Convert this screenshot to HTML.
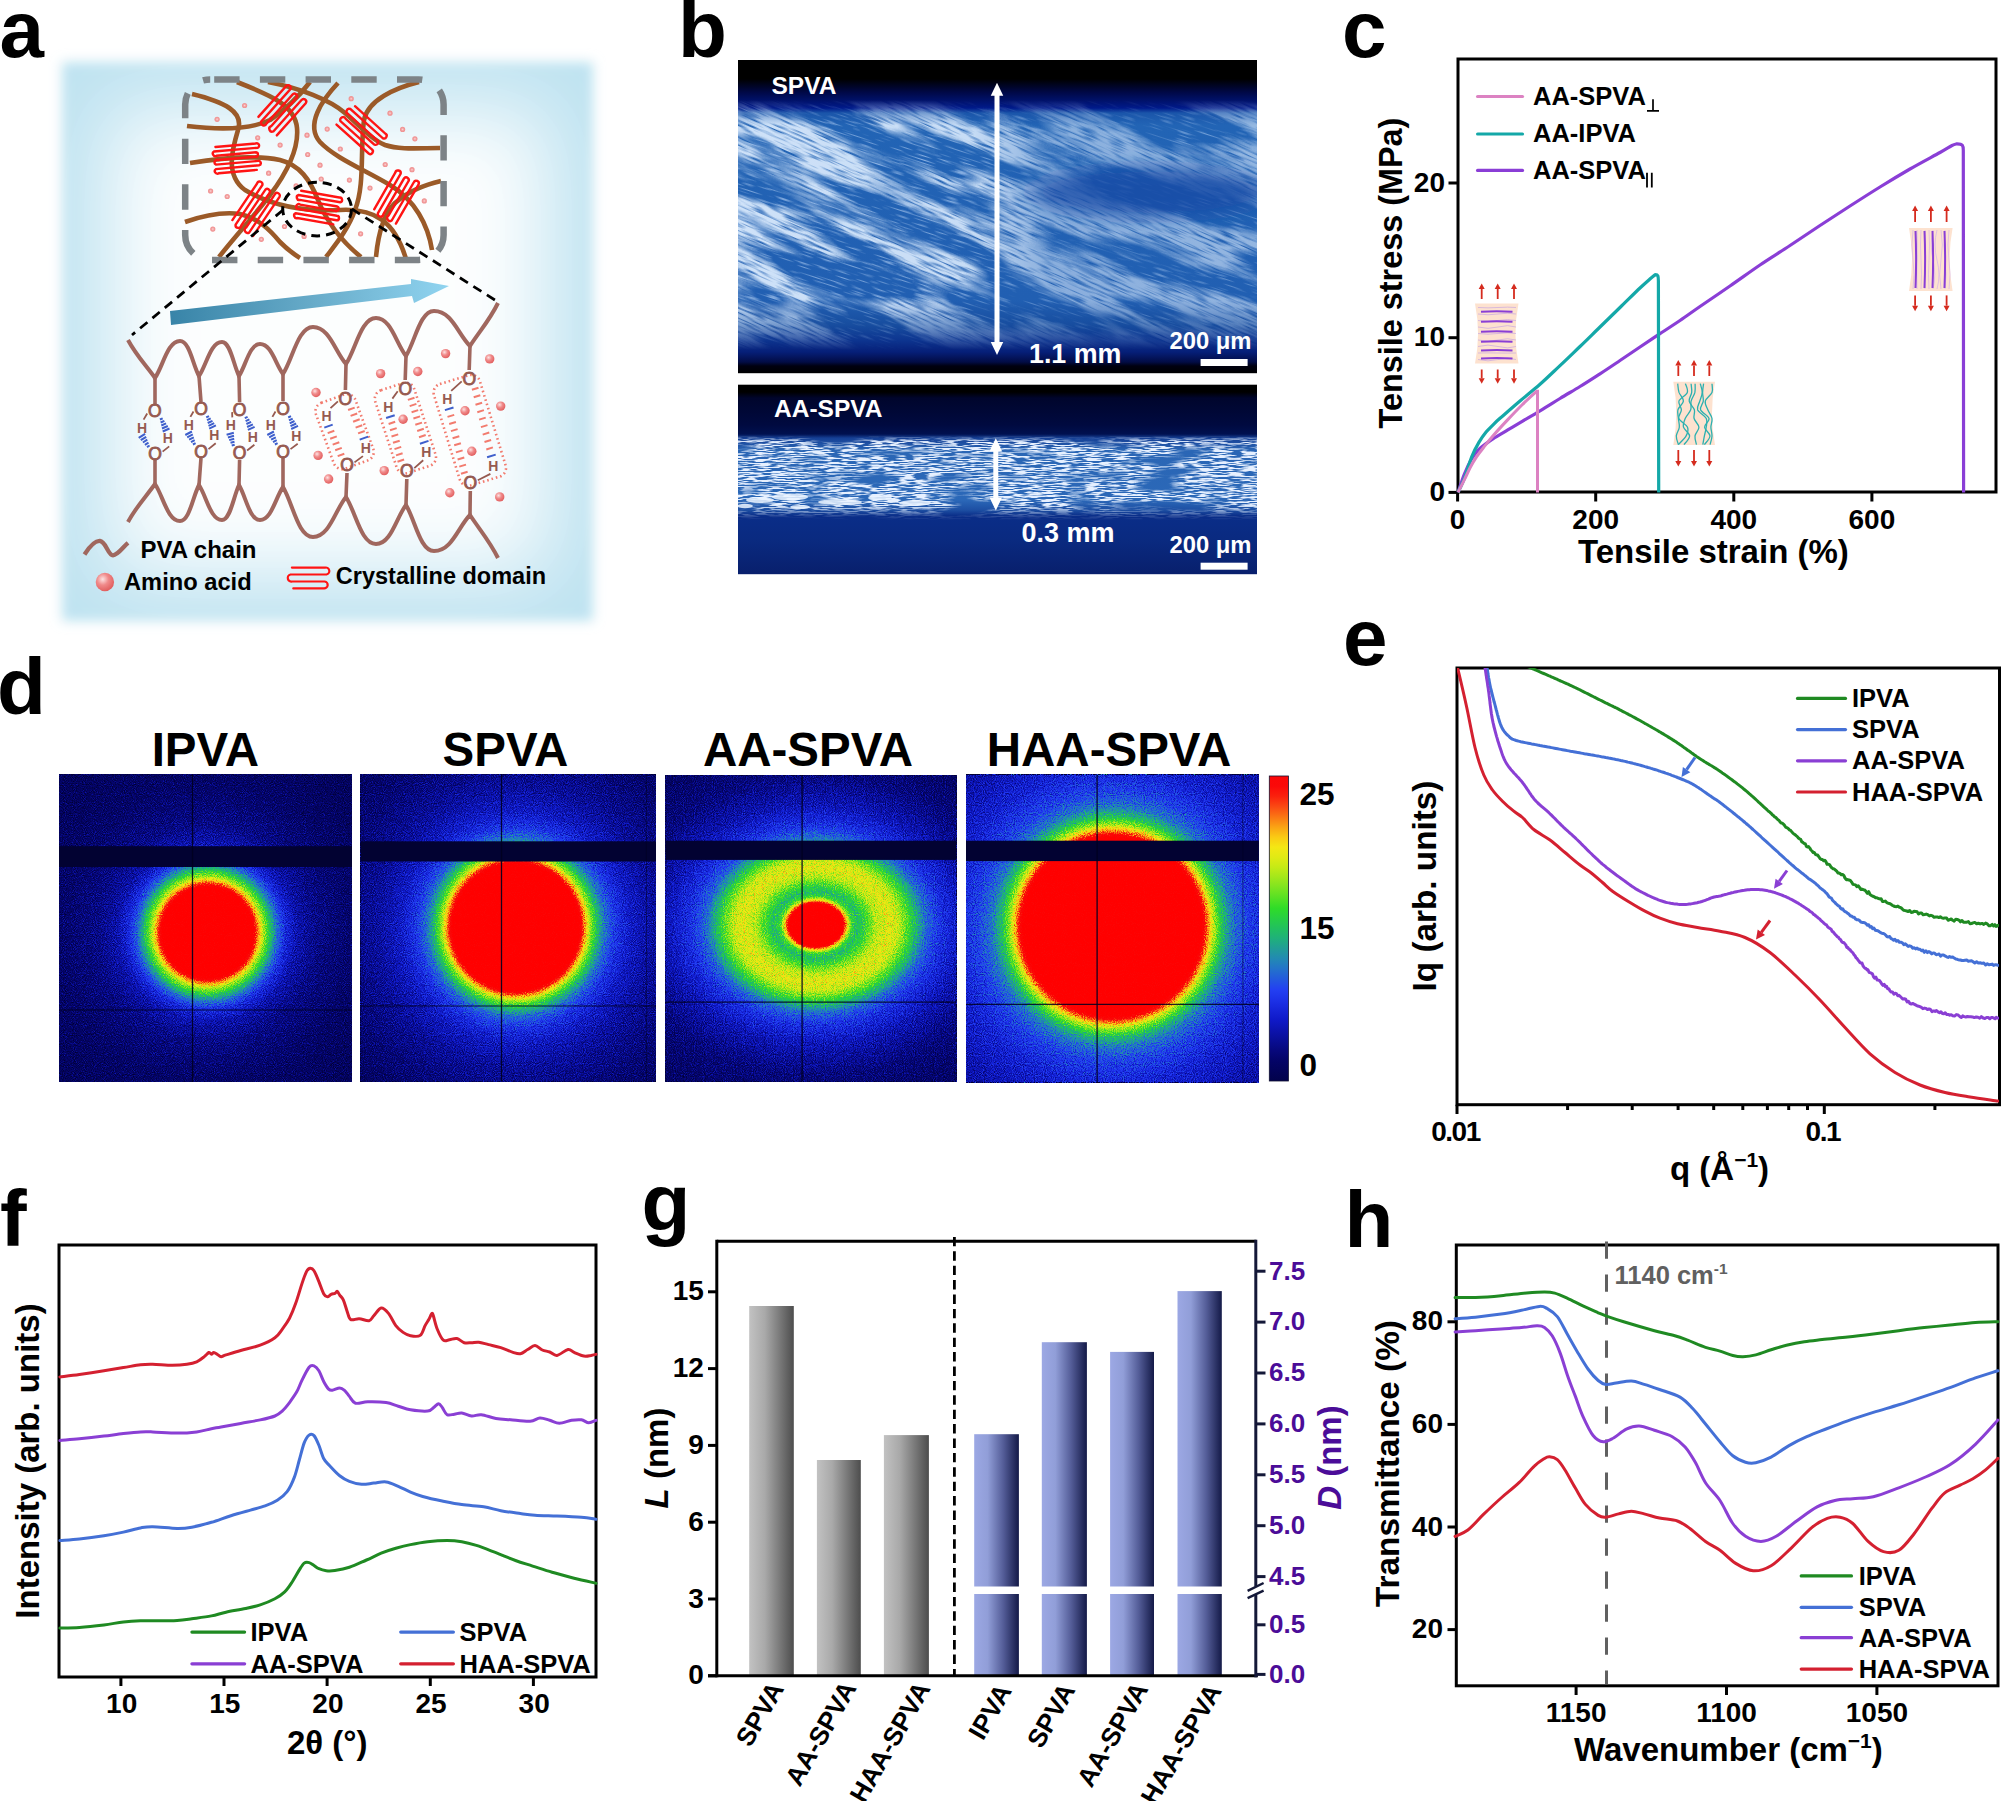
<!DOCTYPE html>
<html><head><meta charset="utf-8"><title>Figure</title>
<style>html,body{margin:0;padding:0;background:#fff;} svg{display:block;} text{font-family:'Liberation Sans', Arial, Helvetica, sans-serif;}</style>
</head><body>
<svg xmlns="http://www.w3.org/2000/svg" width="2001" height="1801" viewBox="0 0 2001 1801">
<rect width="2001" height="1801" fill="#fff"/>
<defs>
<filter id="fa1" x="-20%" y="-20%" width="140%" height="140%"><feGaussianBlur stdDeviation="6"/></filter>
<filter id="fa2" x="-60%" y="-60%" width="220%" height="220%"><feGaussianBlur stdDeviation="42"/></filter>
<linearGradient id="arrowG" x1="170" y1="0" x2="449" y2="0" gradientUnits="userSpaceOnUse"><stop offset="0" stop-color="#3884a8"/><stop offset="0.5" stop-color="#66aac8"/><stop offset="1" stop-color="#90d4f0"/></linearGradient>
<radialGradient id="aaDot" cx="0.38" cy="0.35" r="0.7"><stop offset="0" stop-color="#fde2e2"/><stop offset="0.45" stop-color="#f08a8a"/><stop offset="1" stop-color="#e05a5a"/></radialGradient>
<radialGradient id="aaDot2" cx="0.5" cy="0.5" r="0.5"><stop offset="0" stop-color="#fbd6d6"/><stop offset="0.5" stop-color="#f3a0a0"/><stop offset="1" stop-color="#ee8d8d"/></radialGradient>
</defs>
<rect x="62" y="62" width="531" height="559" fill="#bde2f0" filter="url(#fa1)"/>
<rect x="108" y="108" width="440" height="467" fill="#ffffff" filter="url(#fa2)" opacity="0.97"/>
<path d="M192,94 C225,102 244,112 238,130 C232,150 225,175 245,190 C270,205 300,212 340,210 C375,208 395,222 406,259" fill="none" stroke="#9b5a28" stroke-width="4.6" stroke-linecap="butt"/>
<path d="M187,126 C220,130 250,130 270,120 C288,108 300,95 310,82" fill="none" stroke="#9b5a28" stroke-width="4.6" stroke-linecap="butt"/>
<path d="M237,82 C270,95 295,105 297,128 C299,150 285,175 270,195 C255,215 232,240 219,257" fill="none" stroke="#9b5a28" stroke-width="4.6" stroke-linecap="butt"/>
<path d="M268,82 C300,88 330,100 345,113 C360,126 372,140 385,145 C400,150 420,148 440,148" fill="none" stroke="#9b5a28" stroke-width="4.6" stroke-linecap="butt"/>
<path d="M338,83 C322,100 305,125 320,142 C335,158 365,170 390,185 C415,200 428,225 432,250" fill="none" stroke="#9b5a28" stroke-width="4.6" stroke-linecap="butt"/>
<path d="M419,82 C395,88 368,100 364,120 C360,150 365,185 355,210 C348,230 335,245 326,257" fill="none" stroke="#9b5a28" stroke-width="4.6" stroke-linecap="butt"/>
<path d="M190,163 C220,158 255,155 280,160 C300,165 310,180 318,200 C326,220 340,240 361,257" fill="none" stroke="#9b5a28" stroke-width="4.6" stroke-linecap="butt"/>
<path d="M185,222 C205,215 225,212 240,214 C258,218 270,230 280,242 C288,250 295,255 300,258" fill="none" stroke="#9b5a28" stroke-width="4.6" stroke-linecap="butt"/>
<path d="M376,257 C378,235 383,215 395,203 C410,190 425,185 441,181" fill="none" stroke="#9b5a28" stroke-width="4.6" stroke-linecap="butt"/>
<circle cx="244.6" cy="105.5" r="2.6" fill="url(#aaDot2)"/>
<circle cx="217.1" cy="119.3" r="2.6" fill="url(#aaDot2)"/>
<circle cx="257.7" cy="137.8" r="2.6" fill="url(#aaDot2)"/>
<circle cx="280.1" cy="145.1" r="2.6" fill="url(#aaDot2)"/>
<circle cx="307" cy="135.2" r="2.6" fill="url(#aaDot2)"/>
<circle cx="327.2" cy="129.1" r="2.6" fill="url(#aaDot2)"/>
<circle cx="351.2" cy="98.7" r="2.6" fill="url(#aaDot2)"/>
<circle cx="390" cy="113.2" r="2.6" fill="url(#aaDot2)"/>
<circle cx="402.6" cy="129.4" r="2.6" fill="url(#aaDot2)"/>
<circle cx="414.9" cy="138.8" r="2.6" fill="url(#aaDot2)"/>
<circle cx="340.3" cy="149" r="2.6" fill="url(#aaDot2)"/>
<circle cx="307.7" cy="154.5" r="2.6" fill="url(#aaDot2)"/>
<circle cx="320" cy="165.2" r="2.6" fill="url(#aaDot2)"/>
<circle cx="268.6" cy="173.2" r="2.6" fill="url(#aaDot2)"/>
<circle cx="321.2" cy="179" r="2.6" fill="url(#aaDot2)"/>
<circle cx="349.4" cy="180.1" r="2.6" fill="url(#aaDot2)"/>
<circle cx="370" cy="188.1" r="2.6" fill="url(#aaDot2)"/>
<circle cx="385.2" cy="164.5" r="2.6" fill="url(#aaDot2)"/>
<circle cx="412" cy="169.7" r="2.6" fill="url(#aaDot2)"/>
<circle cx="210.6" cy="191" r="2.6" fill="url(#aaDot2)"/>
<circle cx="227.2" cy="196.5" r="2.6" fill="url(#aaDot2)"/>
<circle cx="296.1" cy="185.9" r="2.6" fill="url(#aaDot2)"/>
<circle cx="284.5" cy="226.5" r="2.6" fill="url(#aaDot2)"/>
<circle cx="212.8" cy="229.1" r="2.6" fill="url(#aaDot2)"/>
<circle cx="261.3" cy="239.3" r="2.6" fill="url(#aaDot2)"/>
<circle cx="304.1" cy="236.4" r="2.6" fill="url(#aaDot2)"/>
<circle cx="360.6" cy="233.8" r="2.6" fill="url(#aaDot2)"/>
<circle cx="424.3" cy="200.9" r="2.6" fill="url(#aaDot2)"/>
<path d="M258.4,116.9 L285.5,86.9 A2.60,2.60 0 0 1 290.5,89 L261.1,121.7 A2.60,2.60 0 0 0 266.4,123.6 L292.9,94.2 A2.60,2.60 0 0 1 296,98.5 L271.1,126.2 A2.60,2.60 0 0 0 273.3,131.5 L301.5,100.1 A2.60,2.60 0 0 1 305.7,103.2 L276.8,135.4 " fill="none" stroke="#ff1414" stroke-width="2.4" stroke-linecap="round"/>
<path d="M215.4,147 L255.7,143.5 A2.20,2.20 0 0 1 257.8,147.7 L214,151.5 A2.20,2.20 0 0 0 216.6,155.7 L256,152.3 A2.20,2.20 0 0 1 255.2,156.8 L218.2,160 A2.20,2.20 0 0 0 216.1,164.6 L258.1,160.9 A2.20,2.20 0 0 1 259,165.3 L215.9,169.1 A2.20,2.20 0 0 0 218.9,173.2 L256.8,169.9 " fill="none" stroke="#ff1414" stroke-width="2.4" stroke-linecap="round"/>
<path d="M355,106.2 L385,133.3 A2.60,2.60 0 0 1 382.9,138.3 L350.2,108.9 A2.60,2.60 0 0 0 348.3,114.2 L377.7,140.7 A2.60,2.60 0 0 1 373.4,143.8 L345.7,118.9 A2.60,2.60 0 0 0 340.4,121.1 L371.8,149.3 A2.60,2.60 0 0 1 368.7,153.5 L336.5,124.6 " fill="none" stroke="#ff1414" stroke-width="2.4" stroke-linecap="round"/>
<path d="M232.4,220.1 L257.1,183.5 A2.60,2.60 0 0 1 262.4,184.9 L235.6,224.6 A2.60,2.60 0 0 0 241.3,225.5 L265.4,189.7 A2.60,2.60 0 0 1 269,193.7 L246.3,227.4 A2.60,2.60 0 0 0 249.1,232.6 L274.8,194.4 A2.60,2.60 0 0 1 279.5,196.8 L253.1,235.9 " fill="none" stroke="#ff1414" stroke-width="2.4" stroke-linecap="round"/>
<path d="M301.2,190.8 L339.2,197.5 A2.30,2.30 0 0 1 340.1,202.3 L298.7,195 A2.30,2.30 0 0 0 300,199.9 L337.2,206.5 A2.30,2.30 0 0 1 335.3,210.8 L300.3,204.6 A2.30,2.30 0 0 0 297.2,208.7 L336.8,215.7 A2.30,2.30 0 0 1 336.6,220.3 L295.9,213.2 A2.30,2.30 0 0 0 297.5,218.1 L333.3,224.4 " fill="none" stroke="#ff1414" stroke-width="2.4" stroke-linecap="round"/>
<path d="M374.2,209.3 L395.3,172.7 A2.60,2.60 0 0 1 400.7,173.7 L377.8,213.5 A2.60,2.60 0 0 0 383.4,214.1 L404.1,178.3 A2.60,2.60 0 0 1 408,182 L388.5,215.6 A2.60,2.60 0 0 0 391.7,220.5 L413.8,182.3 A2.60,2.60 0 0 1 418.6,184.4 L395.9,223.6 " fill="none" stroke="#ff1414" stroke-width="2.4" stroke-linecap="round"/>
<rect x="185.2" y="79.4" width="258.4" height="180.5" rx="25" ry="25" fill="none" stroke="#7d8387" stroke-width="6.5" stroke-dasharray="25.4 20.3" stroke-dashoffset="-4"/>
<ellipse cx="317.1" cy="209.1" rx="34.4" ry="26.8" fill="none" stroke="#000" stroke-width="3" stroke-dasharray="9 6"/>
<path d="M283,210 L132,335 M351.9,209 L498,302" stroke="#000" stroke-width="2.8" stroke-dasharray="9.5 6.5" fill="none"/>
<path d="M170,311 L411,284 L411,279 L449,286 L414,303 L412,296 L171,325 Z" fill="url(#arrowG)"/>
<path d="M128,340 C136.1,355.2 146.1,365.5 155,378 C163.2,365.8 167.5,341 180,341 C189.5,341 192.7,364.4 199,376 C206.6,364.8 210.5,342 222,342 C230.5,342 233.4,364.8 239,376 C245.9,365.4 249.5,344 260,344 C271.5,344 275.4,364.1 283,374 C292.9,358.5 298,327 313,327 C329.5,327 335.1,351.8 346,364 C355.9,348.8 361,318 376,318 C391,318 396.1,343.5 406,356 C415.2,341.1 420,311 434,311 C452,311 458.1,334.4 470,346 C479.2,331.8 489.6,320.2 498,303 " fill="none" stroke="#a0675e" stroke-width="4" stroke-linejoin="miter"/>
<path d="M128,522 C136.1,506.8 146.1,496.5 155,484 C163.2,496.2 167.5,521 180,521 C189.5,521 192.7,496.9 199,485 C206.6,496.6 210.5,520 222,520 C230.5,520 233.4,496.6 239,485 C245.9,496.6 249.5,520 260,520 C271.5,520 275.4,497.9 283,487 C292.9,503.5 298,537 313,537 C329.5,537 335.1,510.2 346,497 C355.9,512.5 361,544 376,544 C391,544 396.1,517.9 406,505 C415.2,520.2 420,551 434,551 C452,551 458.1,526.9 470,515 C479.2,529.2 489.6,540.8 498,558 " fill="none" stroke="#a0675e" stroke-width="4" stroke-linejoin="miter"/>
<path d="M155,378 L155,404 M155,460 L155,484" stroke="#a0675e" stroke-width="3.6" fill="none"/>
<path d="M199,376 L201,402 M201,458 L199,485" stroke="#a0675e" stroke-width="3.6" fill="none"/>
<path d="M239,376 L239.6,402 M239.6,460 L239,485" stroke="#a0675e" stroke-width="3.6" fill="none"/>
<path d="M283,374 L283,401 M283,458 L283,487" stroke="#a0675e" stroke-width="3.6" fill="none"/>
<path d="M346,364 L345.4,390 M347,473 L346,497" stroke="#a0675e" stroke-width="3.6" fill="none"/>
<path d="M406,356 L405.2,380 M406.8,479 L406,505" stroke="#a0675e" stroke-width="3.6" fill="none"/>
<path d="M470,346 L469.2,370 M470.3,491 L470,515" stroke="#a0675e" stroke-width="3.6" fill="none"/>
<text x="154.7" y="417.3" font-size="17.5" text-anchor="middle" fill="#965a50" stroke="#965a50" stroke-width="0.9">O</text>
<text x="155.1" y="460.4" font-size="17.5" text-anchor="middle" fill="#965a50" stroke="#965a50" stroke-width="0.9">O</text>
<text x="142.1" y="432.6" font-size="14" font-weight="bold" text-anchor="middle" fill="#965a50">H</text>
<text x="167.7" y="443.4" font-size="14" font-weight="bold" text-anchor="middle" fill="#965a50">H</text>
<path d="M147.2,413.5 L143.6,419.6 M162.6,451.6 L169.2,446.4" stroke="#965a50" stroke-width="1.8"/>
<path d="M162.7,418.3 L159.9,419.5 M164.4,420.8 L160.6,422.5 M166.1,423.4 L161.3,425.5 M167.8,426 L162,428.5 M169.5,428.5 L162.7,431.5" stroke="#3e5fcc" stroke-width="2" fill="none"/>
<path d="M147,447.1 L149.6,445.5 M144.9,444.8 L148.5,442.6 M142.9,442.5 L147.3,439.7 M140.8,440.2 L146.2,436.8 M138.7,437.9 L145.1,433.9" stroke="#3e5fcc" stroke-width="2" fill="none"/>
<text x="201" y="415.3" font-size="17.5" text-anchor="middle" fill="#965a50" stroke="#965a50" stroke-width="0.9">O</text>
<text x="201" y="457.9" font-size="17.5" text-anchor="middle" fill="#965a50" stroke="#965a50" stroke-width="0.9">O</text>
<text x="188.9" y="429.9" font-size="14" font-weight="bold" text-anchor="middle" fill="#965a50">H</text>
<text x="214.2" y="440.3" font-size="14" font-weight="bold" text-anchor="middle" fill="#965a50">H</text>
<path d="M193.5,411.5 L190.4,416.9 M208.5,449.1 L215.7,443.3" stroke="#965a50" stroke-width="1.8"/>
<path d="M209,416.1 L206.2,417.4 M210.7,418.4 L207,420.2 M212.5,420.8 L207.7,423 M214.2,423.1 L208.5,425.8 M215.9,425.4 L209.2,428.6" stroke="#3e5fcc" stroke-width="2" fill="none"/>
<path d="M192.9,444.5 L195.6,443.1 M191,442.1 L194.7,440.2 M189.1,439.7 L193.8,437.3 M187.2,437.4 L192.8,434.4 M185.3,435 L191.9,431.5" stroke="#3e5fcc" stroke-width="2" fill="none"/>
<text x="239.6" y="415.9" font-size="17.5" text-anchor="middle" fill="#965a50" stroke="#965a50" stroke-width="0.9">O</text>
<text x="239.6" y="459.3" font-size="17.5" text-anchor="middle" fill="#965a50" stroke="#965a50" stroke-width="0.9">O</text>
<text x="230.8" y="430.4" font-size="14" font-weight="bold" text-anchor="middle" fill="#965a50">H</text>
<text x="252.9" y="441.7" font-size="14" font-weight="bold" text-anchor="middle" fill="#965a50">H</text>
<path d="M232.1,412.1 L232.3,417.4 M247.1,450.5 L254.4,444.7" stroke="#965a50" stroke-width="1.8"/>
<path d="M247.6,416.8 L244.8,418.1 M249.4,419.3 L245.6,421.1 M251.1,421.8 L246.4,424 M252.9,424.3 L247.1,427 M254.6,426.8 L247.9,429.9" stroke="#3e5fcc" stroke-width="2" fill="none"/>
<path d="M231.7,445.5 L234.7,444.7 M230.5,442.8 L234.5,441.7 M229.2,440.1 L234.2,438.8 M227.9,437.5 L234,435.8 M226.6,434.8 L233.8,432.8" stroke="#3e5fcc" stroke-width="2" fill="none"/>
<text x="283" y="415.3" font-size="17.5" text-anchor="middle" fill="#965a50" stroke="#965a50" stroke-width="0.9">O</text>
<text x="283" y="457.9" font-size="17.5" text-anchor="middle" fill="#965a50" stroke="#965a50" stroke-width="0.9">O</text>
<text x="270.9" y="429.9" font-size="14" font-weight="bold" text-anchor="middle" fill="#965a50">H</text>
<text x="296.2" y="440.8" font-size="14" font-weight="bold" text-anchor="middle" fill="#965a50">H</text>
<path d="M275.5,411.5 L272.4,416.9 M290.5,449.1 L297.7,443.8" stroke="#965a50" stroke-width="1.8"/>
<path d="M291,416.2 L288.2,417.5 M292.7,418.6 L289,420.4 M294.5,421 L289.7,423.3 M296.2,423.5 L290.5,426.2 M298,425.9 L291.2,429" stroke="#3e5fcc" stroke-width="2" fill="none"/>
<path d="M274.9,444.5 L277.6,443.1 M273,442.1 L276.7,440.2 M271.1,439.7 L275.8,437.3 M269.2,437.4 L274.8,434.4 M267.3,435 L273.9,431.5" stroke="#3e5fcc" stroke-width="2" fill="none"/>
<rect x="323.6" y="396.6" width="42" height="70" rx="9" fill="none" stroke="#f27b6e" stroke-width="2.6" stroke-dasharray="1.6 2.9" transform="rotate(-20 344.6 431.6)"/>
<text x="345.4" y="405.1" font-size="17.5" text-anchor="middle" fill="#965a50" stroke="#965a50" stroke-width="0.9">O</text>
<text x="347" y="471.2" font-size="17.5" text-anchor="middle" fill="#965a50" stroke="#965a50" stroke-width="0.9">O</text>
<text x="326.5" y="421.1" font-size="14" font-weight="bold" text-anchor="middle" fill="#965a50">H</text>
<text x="365.9" y="453.1" font-size="14" font-weight="bold" text-anchor="middle" fill="#965a50">H</text>
<path d="M337.9,401.3 L330.5,408.1 M354.5,462.4 L362.9,456.1" stroke="#965a50" stroke-width="1.8"/>
<line x1="324.3" y1="427.6" x2="332.7" y2="424.6" stroke="#3e5fcc" stroke-width="2"/><line x1="327.7" y1="433.1" x2="334.3" y2="430.7" stroke="#f27b6e" stroke-width="2"/><line x1="330.2" y1="438.8" x2="336.8" y2="436.4" stroke="#f27b6e" stroke-width="2"/><line x1="332.7" y1="444.6" x2="339.3" y2="442.2" stroke="#f27b6e" stroke-width="2"/><line x1="335.2" y1="450.3" x2="341.8" y2="447.9" stroke="#f27b6e" stroke-width="2"/><line x1="337.7" y1="456.1" x2="344.3" y2="453.7" stroke="#f27b6e" stroke-width="2"/>
<line x1="348.1" y1="410" x2="354.7" y2="407.6" stroke="#f27b6e" stroke-width="2"/><line x1="350.6" y1="415.9" x2="357.2" y2="413.5" stroke="#f27b6e" stroke-width="2"/><line x1="353.1" y1="421.7" x2="359.7" y2="419.3" stroke="#f27b6e" stroke-width="2"/><line x1="355.6" y1="427.6" x2="362.2" y2="425.2" stroke="#f27b6e" stroke-width="2"/><line x1="358.1" y1="433.4" x2="364.7" y2="431" stroke="#f27b6e" stroke-width="2"/><line x1="359.7" y1="439.6" x2="368.1" y2="436.6" stroke="#3e5fcc" stroke-width="2"/>
<rect x="384.9" y="384.5" width="41" height="87" rx="9" fill="none" stroke="#f27b6e" stroke-width="2.6" stroke-dasharray="1.6 2.9" transform="rotate(-18 405.4 428)"/>
<text x="405.2" y="395.1" font-size="17.5" text-anchor="middle" fill="#965a50" stroke="#965a50" stroke-width="0.9">O</text>
<text x="406.8" y="476.9" font-size="17.5" text-anchor="middle" fill="#965a50" stroke="#965a50" stroke-width="0.9">O</text>
<text x="388.4" y="411.6" font-size="14" font-weight="bold" text-anchor="middle" fill="#965a50">H</text>
<text x="426.2" y="457.3" font-size="14" font-weight="bold" text-anchor="middle" fill="#965a50">H</text>
<path d="M397.7,391.3 L392.4,398.6 M414.3,468.1 L423.2,460.3" stroke="#965a50" stroke-width="1.8"/>
<line x1="386.1" y1="418" x2="394.7" y2="415.2" stroke="#3e5fcc" stroke-width="2"/><line x1="388.6" y1="424" x2="395.2" y2="421.8" stroke="#f27b6e" stroke-width="2"/><line x1="390" y1="430.3" x2="396.7" y2="428.1" stroke="#f27b6e" stroke-width="2"/><line x1="391.5" y1="436.5" x2="398.2" y2="434.4" stroke="#f27b6e" stroke-width="2"/><line x1="393" y1="442.8" x2="399.7" y2="440.7" stroke="#f27b6e" stroke-width="2"/><line x1="394.5" y1="449.1" x2="401.2" y2="446.9" stroke="#f27b6e" stroke-width="2"/><line x1="396" y1="455.4" x2="402.6" y2="453.2" stroke="#f27b6e" stroke-width="2"/><line x1="397.5" y1="461.7" x2="404.1" y2="459.5" stroke="#f27b6e" stroke-width="2"/>
<line x1="407.9" y1="399.9" x2="414.5" y2="397.7" stroke="#f27b6e" stroke-width="2"/><line x1="409.7" y1="406.1" x2="416.4" y2="403.9" stroke="#f27b6e" stroke-width="2"/><line x1="411.6" y1="412.3" x2="418.2" y2="410.1" stroke="#f27b6e" stroke-width="2"/><line x1="413.4" y1="418.5" x2="420.1" y2="416.4" stroke="#f27b6e" stroke-width="2"/><line x1="415.3" y1="424.7" x2="422" y2="422.6" stroke="#f27b6e" stroke-width="2"/><line x1="417.2" y1="431" x2="423.8" y2="428.8" stroke="#f27b6e" stroke-width="2"/><line x1="419" y1="437.2" x2="425.7" y2="435" stroke="#f27b6e" stroke-width="2"/><line x1="419.9" y1="443.7" x2="428.5" y2="440.9" stroke="#3e5fcc" stroke-width="2"/>
<rect x="445.8" y="377.3" width="48" height="106" rx="9" fill="none" stroke="#f27b6e" stroke-width="2.6" stroke-dasharray="1.6 2.9" transform="rotate(-17 469.8 430.3)"/>
<text x="469.2" y="385.1" font-size="17.5" text-anchor="middle" fill="#965a50" stroke="#965a50" stroke-width="0.9">O</text>
<text x="470.3" y="489" font-size="17.5" text-anchor="middle" fill="#965a50" stroke="#965a50" stroke-width="0.9">O</text>
<text x="447.2" y="403.8" font-size="14" font-weight="bold" text-anchor="middle" fill="#965a50">H</text>
<text x="493.4" y="470.9" font-size="14" font-weight="bold" text-anchor="middle" fill="#965a50">H</text>
<path d="M461.7,381.3 L451.2,390.8 M477.8,480.2 L490.4,473.9" stroke="#965a50" stroke-width="1.8"/>
<line x1="444.9" y1="410.1" x2="453.5" y2="407.5" stroke="#3e5fcc" stroke-width="2"/><line x1="447.5" y1="416.9" x2="454.2" y2="414.9" stroke="#f27b6e" stroke-width="2"/><line x1="449.2" y1="424" x2="455.9" y2="422" stroke="#f27b6e" stroke-width="2"/><line x1="450.9" y1="431.1" x2="457.6" y2="429.1" stroke="#f27b6e" stroke-width="2"/><line x1="452.6" y1="438.2" x2="459.3" y2="436.2" stroke="#f27b6e" stroke-width="2"/><line x1="454.2" y1="445.3" x2="460.9" y2="443.3" stroke="#f27b6e" stroke-width="2"/><line x1="455.9" y1="452.4" x2="462.6" y2="450.4" stroke="#f27b6e" stroke-width="2"/><line x1="457.6" y1="459.5" x2="464.3" y2="457.5" stroke="#f27b6e" stroke-width="2"/><line x1="459.3" y1="466.6" x2="466" y2="464.6" stroke="#f27b6e" stroke-width="2"/><line x1="461" y1="473.7" x2="467.6" y2="471.7" stroke="#f27b6e" stroke-width="2"/>
<line x1="471.9" y1="389.8" x2="478.5" y2="387.8" stroke="#f27b6e" stroke-width="2"/><line x1="473.7" y1="397.3" x2="480.3" y2="395.2" stroke="#f27b6e" stroke-width="2"/><line x1="475.5" y1="404.7" x2="482.1" y2="402.7" stroke="#f27b6e" stroke-width="2"/><line x1="477.3" y1="412.2" x2="483.9" y2="410.1" stroke="#f27b6e" stroke-width="2"/><line x1="479.1" y1="419.6" x2="485.7" y2="417.6" stroke="#f27b6e" stroke-width="2"/><line x1="480.9" y1="427.1" x2="487.5" y2="425.1" stroke="#f27b6e" stroke-width="2"/><line x1="482.7" y1="434.6" x2="489.3" y2="432.5" stroke="#f27b6e" stroke-width="2"/><line x1="484.5" y1="442" x2="491.1" y2="440" stroke="#f27b6e" stroke-width="2"/><line x1="486.3" y1="449.5" x2="492.9" y2="447.4" stroke="#f27b6e" stroke-width="2"/><line x1="487.1" y1="457.2" x2="495.7" y2="454.6" stroke="#3e5fcc" stroke-width="2"/>
<circle cx="316" cy="392.5" r="4.7" fill="url(#aaDot)"/>
<circle cx="318.1" cy="455.4" r="4.7" fill="url(#aaDot)"/>
<circle cx="328.6" cy="479" r="4.7" fill="url(#aaDot)"/>
<circle cx="380.6" cy="373.6" r="4.7" fill="url(#aaDot)"/>
<circle cx="417.8" cy="371.5" r="4.7" fill="url(#aaDot)"/>
<circle cx="403.1" cy="419.2" r="4.7" fill="url(#aaDot)"/>
<circle cx="384.2" cy="470.6" r="4.7" fill="url(#aaDot)"/>
<circle cx="445.6" cy="353.6" r="4.7" fill="url(#aaDot)"/>
<circle cx="489.7" cy="358.9" r="4.7" fill="url(#aaDot)"/>
<circle cx="465" cy="410.8" r="4.7" fill="url(#aaDot)"/>
<circle cx="500.7" cy="406.1" r="4.7" fill="url(#aaDot)"/>
<circle cx="471.8" cy="451.2" r="4.7" fill="url(#aaDot)"/>
<circle cx="449.8" cy="492.7" r="4.7" fill="url(#aaDot)"/>
<circle cx="499.7" cy="496.9" r="4.7" fill="url(#aaDot)"/>
<path d="M84.5,554.5 C90,546 95,540.5 100,541 C106,541.5 108,555.5 113,555.3 C118,555 123,547 128,542.8" stroke="#a0675e" stroke-width="4.3" fill="none"/>
<text x="140.5" y="557.6" font-size="24" text-anchor="start" font-weight="bold" fill="#000">PVA chain</text>
<circle cx="104.9" cy="582" r="9.2" fill="url(#aaDot)"/>
<text x="124" y="590" font-size="23.7" text-anchor="start" font-weight="bold" fill="#000">Amino acid</text>
<path d="M291.9,567.6 L325.1,567.6 A3.45,3.45 0 0 1 326.5,574.5 L290.5,574.5 A3.45,3.45 0 0 0 292.3,581.5 L324.7,581.5 A3.45,3.45 0 0 1 323.7,588.4 L293.3,588.4 " fill="none" stroke="#ff1414" stroke-width="2.2" stroke-linecap="round"/>
<text x="335.8" y="584.2" font-size="23.5" text-anchor="start" font-weight="bold" fill="#000">Crystalline domain</text>
<defs>
<clipPath id="cb1"><rect x="738" y="60" width="519" height="313.4"/></clipPath>
<clipPath id="cb2"><rect x="738" y="384.4" width="519" height="190"/></clipPath>
<linearGradient id="bg1" gradientUnits="userSpaceOnUse" x1="0" y1="60" x2="0" y2="373.4"><stop offset="0.0000" stop-color="#000000"/><stop offset="0.0606" stop-color="#000000"/><stop offset="0.1021" stop-color="#000845"/><stop offset="0.1532" stop-color="#001a8a"/><stop offset="0.1691" stop-color="#1a55aa"/><stop offset="0.2074" stop-color="#2264b5"/><stop offset="0.7658" stop-color="#215fb2"/><stop offset="0.8456" stop-color="#174d9f"/><stop offset="0.8934" stop-color="#0d3590"/><stop offset="0.9317" stop-color="#061f78"/><stop offset="0.9636" stop-color="#020c45"/><stop offset="0.9764" stop-color="#000010"/><stop offset="1.0000" stop-color="#000000"/></linearGradient>
<linearGradient id="bg2" gradientUnits="userSpaceOnUse" x1="0" y1="384.4" x2="0" y2="574.4"><stop offset="0.0000" stop-color="#000000"/><stop offset="0.0400" stop-color="#000000"/><stop offset="0.0716" stop-color="#00052c"/><stop offset="0.2137" stop-color="#000a40"/><stop offset="0.2611" stop-color="#00104f"/><stop offset="0.2821" stop-color="#153f95"/><stop offset="0.3453" stop-color="#2a66b5"/><stop offset="0.6084" stop-color="#2b68b8"/><stop offset="0.6611" stop-color="#1d4fa3"/><stop offset="0.6926" stop-color="#0a2d88"/><stop offset="0.8189" stop-color="#0a2a80"/><stop offset="1.0000" stop-color="#081f6c"/></linearGradient>
<linearGradient id="mk1" gradientUnits="userSpaceOnUse" x1="0" y1="60" x2="0" y2="373.4"><stop offset="0.0000" stop-color="#000"/><stop offset="0.1276" stop-color="#000"/><stop offset="0.2074" stop-color="#fff"/><stop offset="0.7658" stop-color="#fff"/><stop offset="0.8775" stop-color="#555"/><stop offset="0.9253" stop-color="#000"/><stop offset="1.0000" stop-color="#000"/></linearGradient>
<linearGradient id="mk1h" gradientUnits="userSpaceOnUse" x1="738" y1="0" x2="1257" y2="0"><stop offset="0" stop-color="#fff"/><stop offset="0.45" stop-color="#f4f4f4"/><stop offset="0.6" stop-color="#999"/><stop offset="1" stop-color="#aaa"/></linearGradient>
<mask id="m1" maskUnits="userSpaceOnUse" x="738" y="60" width="519" height="313.4"><rect x="738" y="60" width="519" height="313.4" fill="url(#mk1)"/></mask>
<mask id="m1b" maskUnits="userSpaceOnUse" x="738" y="60" width="519" height="313.4"><rect x="738" y="60" width="519" height="313.4" fill="url(#mk1h)"/></mask>
<linearGradient id="mk2" gradientUnits="userSpaceOnUse" x1="0" y1="384.4" x2="0" y2="574.4"><stop offset="0.0000" stop-color="#000"/><stop offset="0.2716" stop-color="#000"/><stop offset="0.3032" stop-color="#fff"/><stop offset="0.6347" stop-color="#fff"/><stop offset="0.6821" stop-color="#444"/><stop offset="0.7137" stop-color="#000"/><stop offset="1.0000" stop-color="#000"/></linearGradient>
<mask id="m2" maskUnits="userSpaceOnUse" x="738" y="384.4" width="519" height="190"><rect x="738" y="384.4" width="519" height="190" fill="url(#mk2)"/></mask>
<filter id="fs1" x="0" y="0" width="1" height="1" color-interpolation-filters="sRGB">
<feTurbulence type="fractalNoise" baseFrequency="0.006 0.028" numOctaves="3" seed="11" result="p"/>
<feColorMatrix in="p" type="matrix" values="0 0 0 0 0  0 0 0 0 0  0 0 0 0 0  7 0 0 0 -2.9" result="pm"/>
<feTurbulence type="fractalNoise" baseFrequency="0.035 0.45" numOctaves="2" seed="5" result="f"/>
<feColorMatrix in="f" type="matrix" values="0 0 0 0 0  0 0 0 0 0  0 0 0 0 0  3.2 0 0 0 -0.7" result="fm"/>
<feFlood flood-color="#cfe2f8" result="fl"/>
<feComposite in="fl" in2="pm" operator="in" result="a1"/>
<feComposite in="a1" in2="fm" operator="in"/>
</filter>
<filter id="fs2" x="0" y="0" width="1" height="1" color-interpolation-filters="sRGB">
<feTurbulence type="fractalNoise" baseFrequency="0.015 0.07" numOctaves="2" seed="4" result="p"/>
<feColorMatrix in="p" type="matrix" values="0 0 0 0 0  0 0 0 0 0  0 0 0 0 0  5 0 0 0 -1.45" result="pm"/>
<feTurbulence type="fractalNoise" baseFrequency="0.07 0.8" numOctaves="2" seed="9" result="f"/>
<feColorMatrix in="f" type="matrix" values="0 0 0 0 0  0 0 0 0 0  0 0 0 0 0  6 0 0 0 -2.5" result="fm"/>
<feFlood flood-color="#e6f0ff" result="fl"/>
<feComposite in="fl" in2="pm" operator="in" result="a1"/>
<feComposite in="a1" in2="fm" operator="in"/>
</filter>
<filter id="fs3" x="0" y="0" width="1" height="1" color-interpolation-filters="sRGB">
<feTurbulence type="fractalNoise" baseFrequency="0.05 0.6" numOctaves="1" seed="21" result="f"/>
<feColorMatrix in="f" type="matrix" values="0 0 0 0 0  0 0 0 0 0  0 0 0 0 0  4 0 0 0 -2.2" result="fm"/>
<feFlood flood-color="#9fc0ea"/>
<feComposite in2="fm" operator="in"/>
</filter>
<filter id="fbl" x="-50%" y="-100%" width="200%" height="300%"><feGaussianBlur stdDeviation="14 8"/></filter>
</defs>
<g clip-path="url(#cb1)">
<rect x="738" y="60" width="519" height="313.4" fill="url(#bg1)"/>
<g mask="url(#m1)"><g mask="url(#m1b)">
<rect x="538" y="-140" width="919" height="713.4" fill="#fff" filter="url(#fs3)" transform="rotate(18 997 216)"/>
<rect x="538" y="-140" width="919" height="713.4" fill="#fff" filter="url(#fs1)" transform="rotate(24 997 216)"/>
</g></g>
<ellipse cx="1150" cy="192" rx="120" ry="26" fill="#124aa5" opacity="0.75" filter="url(#fbl)"/>
</g>
<g clip-path="url(#cb2)">
<rect x="738" y="384.4" width="519" height="190" fill="url(#bg2)"/>
<g mask="url(#m2)"><rect x="738" y="384.4" width="519" height="190" fill="#fff" filter="url(#fs2)"/></g>
<ellipse cx="760" cy="500" rx="14" ry="3" fill="#eaf3ff" opacity="0.85"/>
<ellipse cx="790" cy="497" rx="18" ry="3.5" fill="#eaf3ff" opacity="0.85"/>
<ellipse cx="840" cy="502" rx="22" ry="3" fill="#eaf3ff" opacity="0.85"/>
<ellipse cx="880" cy="498" rx="12" ry="2.5" fill="#eaf3ff" opacity="0.85"/>
<ellipse cx="915" cy="503" rx="16" ry="3" fill="#eaf3ff" opacity="0.85"/>
<ellipse cx="800" cy="507" rx="10" ry="2" fill="#eaf3ff" opacity="0.85"/>
<ellipse cx="745" cy="506" rx="8" ry="2.2" fill="#eaf3ff" opacity="0.85"/>
</g>
<text x="771.5" y="94" font-size="24.5" text-anchor="start" font-weight="bold" fill="#fff">SPVA</text>
<text x="774" y="416.7" font-size="24.5" text-anchor="start" font-weight="bold" fill="#fff">AA-SPVA</text>
<text x="1029" y="362.5" font-size="26.8" text-anchor="start" font-weight="bold" fill="#fff">1.1 mm</text>
<text x="1021.5" y="541.7" font-size="27" text-anchor="start" font-weight="bold" fill="#fff">0.3 mm</text>
<text x="1169.5" y="349.4" font-size="23.8" text-anchor="start" font-weight="bold" fill="#fff">200 μm</text>
<text x="1169.5" y="552.6" font-size="23.8" text-anchor="start" font-weight="bold" fill="#fff">200 μm</text>
<rect x="1200.6" y="359" width="47" height="7" fill="#fff"/>
<rect x="1200.6" y="562.7" width="47" height="7" fill="#fff"/>
<path d="M997,82.7 L1003.25,95.7 L999.5,95.7 L999.5,342 L1003.25,342 L997,355 L990.75,342 L994.5,342 L994.5,95.7 L990.75,95.7 Z" fill="#fff"/>
<path d="M995.8,438.3 L1002.05,451.3 L998.3,451.3 L998.3,497.6 L1002.05,497.6 L995.8,510.6 L989.55,497.6 L993.3,497.6 L993.3,451.3 L989.55,451.3 Z" fill="#fff"/>
<defs>
<filter id="det0" x="0" y="0" width="1" height="1" filterUnits="objectBoundingBox" color-interpolation-filters="sRGB">
<feTurbulence type="fractalNoise" baseFrequency="1.1" numOctaves="1" seed="7" result="n"/>
<feColorMatrix in="n" type="matrix" values="1 0 0 0 0  1 0 0 0 0  1 0 0 0 0  0 0 0 0 1" result="nn"/>
<feComposite in="SourceGraphic" in2="nn" operator="arithmetic" k1="0" k2="1" k3="0.36" k4="-0.18" result="s"/>
<feComponentTransfer in="s"><feFuncR type="table" tableValues="0.000 0.004 0.008 0.012 0.016 0.022 0.031 0.041 0.051 0.064 0.088 0.113 0.137 0.137 0.137 0.137 0.132 0.126 0.120 0.130 0.151 0.172 0.283 0.416 0.549 0.672 0.794 0.884 0.953 0.980 0.980 0.980 0.980 0.980 0.980 0.982 0.986 0.989 0.993 0.996 1.000"/><feFuncG type="table" tableValues="0.000 0.004 0.008 0.012 0.016 0.024 0.043 0.063 0.082 0.107 0.150 0.192 0.235 0.321 0.407 0.493 0.564 0.631 0.699 0.755 0.804 0.853 0.874 0.888 0.902 0.910 0.918 0.916 0.906 0.820 0.682 0.533 0.376 0.231 0.094 0.035 0.028 0.021 0.014 0.007 0.000"/><feFuncB type="table" tableValues="0.196 0.245 0.294 0.343 0.392 0.449 0.537 0.625 0.714 0.795 0.850 0.906 0.961 0.893 0.826 0.759 0.667 0.569 0.471 0.373 0.275 0.176 0.146 0.132 0.118 0.101 0.085 0.078 0.078 0.078 0.078 0.078 0.078 0.067 0.047 0.035 0.028 0.021 0.014 0.007 0.000"/><feFuncA type="linear" slope="0" intercept="1"/></feComponentTransfer>
</filter>
<filter id="det1" x="0" y="0" width="1" height="1" filterUnits="objectBoundingBox" color-interpolation-filters="sRGB">
<feTurbulence type="fractalNoise" baseFrequency="1.1" numOctaves="1" seed="20" result="n"/>
<feColorMatrix in="n" type="matrix" values="1 0 0 0 0  1 0 0 0 0  1 0 0 0 0  0 0 0 0 1" result="nn"/>
<feComposite in="SourceGraphic" in2="nn" operator="arithmetic" k1="0" k2="1" k3="0.36" k4="-0.18" result="s"/>
<feComponentTransfer in="s"><feFuncR type="table" tableValues="0.000 0.004 0.008 0.012 0.016 0.022 0.031 0.041 0.051 0.064 0.088 0.113 0.137 0.137 0.137 0.137 0.132 0.126 0.120 0.130 0.151 0.172 0.283 0.416 0.549 0.672 0.794 0.884 0.953 0.980 0.980 0.980 0.980 0.980 0.980 0.982 0.986 0.989 0.993 0.996 1.000"/><feFuncG type="table" tableValues="0.000 0.004 0.008 0.012 0.016 0.024 0.043 0.063 0.082 0.107 0.150 0.192 0.235 0.321 0.407 0.493 0.564 0.631 0.699 0.755 0.804 0.853 0.874 0.888 0.902 0.910 0.918 0.916 0.906 0.820 0.682 0.533 0.376 0.231 0.094 0.035 0.028 0.021 0.014 0.007 0.000"/><feFuncB type="table" tableValues="0.196 0.245 0.294 0.343 0.392 0.449 0.537 0.625 0.714 0.795 0.850 0.906 0.961 0.893 0.826 0.759 0.667 0.569 0.471 0.373 0.275 0.176 0.146 0.132 0.118 0.101 0.085 0.078 0.078 0.078 0.078 0.078 0.078 0.067 0.047 0.035 0.028 0.021 0.014 0.007 0.000"/><feFuncA type="linear" slope="0" intercept="1"/></feComponentTransfer>
</filter>
<filter id="det2" x="0" y="0" width="1" height="1" filterUnits="objectBoundingBox" color-interpolation-filters="sRGB">
<feTurbulence type="fractalNoise" baseFrequency="1.1" numOctaves="1" seed="33" result="n"/>
<feColorMatrix in="n" type="matrix" values="1 0 0 0 0  1 0 0 0 0  1 0 0 0 0  0 0 0 0 1" result="nn"/>
<feComposite in="SourceGraphic" in2="nn" operator="arithmetic" k1="0" k2="1" k3="0.36" k4="-0.18" result="s"/>
<feComponentTransfer in="s"><feFuncR type="table" tableValues="0.000 0.004 0.008 0.012 0.016 0.022 0.031 0.041 0.051 0.064 0.088 0.113 0.137 0.137 0.137 0.137 0.132 0.126 0.120 0.130 0.151 0.172 0.283 0.416 0.549 0.672 0.794 0.884 0.953 0.980 0.980 0.980 0.980 0.980 0.980 0.982 0.986 0.989 0.993 0.996 1.000"/><feFuncG type="table" tableValues="0.000 0.004 0.008 0.012 0.016 0.024 0.043 0.063 0.082 0.107 0.150 0.192 0.235 0.321 0.407 0.493 0.564 0.631 0.699 0.755 0.804 0.853 0.874 0.888 0.902 0.910 0.918 0.916 0.906 0.820 0.682 0.533 0.376 0.231 0.094 0.035 0.028 0.021 0.014 0.007 0.000"/><feFuncB type="table" tableValues="0.196 0.245 0.294 0.343 0.392 0.449 0.537 0.625 0.714 0.795 0.850 0.906 0.961 0.893 0.826 0.759 0.667 0.569 0.471 0.373 0.275 0.176 0.146 0.132 0.118 0.101 0.085 0.078 0.078 0.078 0.078 0.078 0.078 0.067 0.047 0.035 0.028 0.021 0.014 0.007 0.000"/><feFuncA type="linear" slope="0" intercept="1"/></feComponentTransfer>
</filter>
<filter id="det3" x="0" y="0" width="1" height="1" filterUnits="objectBoundingBox" color-interpolation-filters="sRGB">
<feTurbulence type="fractalNoise" baseFrequency="1.1" numOctaves="1" seed="46" result="n"/>
<feColorMatrix in="n" type="matrix" values="1 0 0 0 0  1 0 0 0 0  1 0 0 0 0  0 0 0 0 1" result="nn"/>
<feComposite in="SourceGraphic" in2="nn" operator="arithmetic" k1="0" k2="1" k3="0.36" k4="-0.18" result="s"/>
<feComponentTransfer in="s"><feFuncR type="table" tableValues="0.000 0.004 0.008 0.012 0.016 0.022 0.031 0.041 0.051 0.064 0.088 0.113 0.137 0.137 0.137 0.137 0.132 0.126 0.120 0.130 0.151 0.172 0.283 0.416 0.549 0.672 0.794 0.884 0.953 0.980 0.980 0.980 0.980 0.980 0.980 0.982 0.986 0.989 0.993 0.996 1.000"/><feFuncG type="table" tableValues="0.000 0.004 0.008 0.012 0.016 0.024 0.043 0.063 0.082 0.107 0.150 0.192 0.235 0.321 0.407 0.493 0.564 0.631 0.699 0.755 0.804 0.853 0.874 0.888 0.902 0.910 0.918 0.916 0.906 0.820 0.682 0.533 0.376 0.231 0.094 0.035 0.028 0.021 0.014 0.007 0.000"/><feFuncB type="table" tableValues="0.196 0.245 0.294 0.343 0.392 0.449 0.537 0.625 0.714 0.795 0.850 0.906 0.961 0.893 0.826 0.759 0.667 0.569 0.471 0.373 0.275 0.176 0.146 0.132 0.118 0.101 0.085 0.078 0.078 0.078 0.078 0.078 0.078 0.067 0.047 0.035 0.028 0.021 0.014 0.007 0.000"/><feFuncA type="linear" slope="0" intercept="1"/></feComponentTransfer>
</filter>
<radialGradient id="dg0" gradientUnits="userSpaceOnUse" cx="207.5" cy="932.5" r="260" gradientTransform="translate(207.5 932.5) scale(1 1.0) translate(-207.5 -932.5)"><stop offset="0.0000" stop-color="rgb(255,255,255)"/><stop offset="0.1731" stop-color="rgb(255,255,255)"/><stop offset="0.1923" stop-color="rgb(204,204,204)"/><stop offset="0.2154" stop-color="rgb(158,158,158)"/><stop offset="0.2423" stop-color="rgb(122,122,122)"/><stop offset="0.2692" stop-color="rgb(89,89,89)"/><stop offset="0.3000" stop-color="rgb(66,66,66)"/><stop offset="0.3462" stop-color="rgb(48,48,48)"/><stop offset="0.4231" stop-color="rgb(36,36,36)"/><stop offset="0.5769" stop-color="rgb(26,26,26)"/><stop offset="0.8077" stop-color="rgb(20,20,20)"/><stop offset="1.0000" stop-color="rgb(18,18,18)"/></radialGradient>
<radialGradient id="dg1" gradientUnits="userSpaceOnUse" cx="515.9" cy="927" r="300" gradientTransform="translate(515.9 927) scale(1 1.0) translate(-515.9 -927)"><stop offset="0.0000" stop-color="rgb(255,255,255)"/><stop offset="0.2100" stop-color="rgb(255,255,255)"/><stop offset="0.2267" stop-color="rgb(204,204,204)"/><stop offset="0.2467" stop-color="rgb(158,158,158)"/><stop offset="0.2700" stop-color="rgb(122,122,122)"/><stop offset="0.2967" stop-color="rgb(92,92,92)"/><stop offset="0.3333" stop-color="rgb(71,71,71)"/><stop offset="0.3833" stop-color="rgb(56,56,56)"/><stop offset="0.4667" stop-color="rgb(43,43,43)"/><stop offset="0.6000" stop-color="rgb(31,31,31)"/><stop offset="0.7333" stop-color="rgb(23,23,23)"/><stop offset="1.0000" stop-color="rgb(20,20,20)"/></radialGradient>
<radialGradient id="dg2" gradientUnits="userSpaceOnUse" cx="816" cy="925" r="260" gradientTransform="translate(816 925) scale(1 0.8) translate(-816 -925)"><stop offset="0.0000" stop-color="rgb(255,255,255)"/><stop offset="0.1000" stop-color="rgb(255,255,255)"/><stop offset="0.1192" stop-color="rgb(184,184,184)"/><stop offset="0.1385" stop-color="rgb(133,133,133)"/><stop offset="0.1615" stop-color="rgb(120,120,120)"/><stop offset="0.1923" stop-color="rgb(135,135,135)"/><stop offset="0.2308" stop-color="rgb(161,161,161)"/><stop offset="0.2769" stop-color="rgb(173,173,173)"/><stop offset="0.3154" stop-color="rgb(166,166,166)"/><stop offset="0.3538" stop-color="rgb(140,140,140)"/><stop offset="0.3846" stop-color="rgb(117,117,117)"/><stop offset="0.4231" stop-color="rgb(89,89,89)"/><stop offset="0.4808" stop-color="rgb(69,69,69)"/><stop offset="0.5769" stop-color="rgb(51,51,51)"/><stop offset="0.7308" stop-color="rgb(33,33,33)"/><stop offset="0.8846" stop-color="rgb(26,26,26)"/><stop offset="1.0000" stop-color="rgb(23,23,23)"/></radialGradient>
<radialGradient id="dg3" gradientUnits="userSpaceOnUse" cx="1112.2" cy="926.7" r="280" gradientTransform="translate(1112.2 926.7) scale(1 1.0) translate(-1112.2 -926.7)"><stop offset="0.0000" stop-color="rgb(255,255,255)"/><stop offset="0.3179" stop-color="rgb(255,255,255)"/><stop offset="0.3393" stop-color="rgb(204,204,204)"/><stop offset="0.3643" stop-color="rgb(158,158,158)"/><stop offset="0.3929" stop-color="rgb(122,122,122)"/><stop offset="0.4286" stop-color="rgb(94,94,94)"/><stop offset="0.4821" stop-color="rgb(76,76,76)"/><stop offset="0.5714" stop-color="rgb(61,61,61)"/><stop offset="0.7143" stop-color="rgb(48,48,48)"/><stop offset="1.0000" stop-color="rgb(38,38,38)"/></radialGradient>
<linearGradient id="cbar" x1="0" y1="0" x2="0" y2="1"><stop offset="0.0000" stop-color="rgb(251, 7, 7)"/><stop offset="0.0333" stop-color="rgb(250, 9, 9)"/><stop offset="0.0667" stop-color="rgb(250, 33, 13)"/><stop offset="0.1000" stop-color="rgb(250, 73, 19)"/><stop offset="0.1333" stop-color="rgb(250, 117, 20)"/><stop offset="0.1667" stop-color="rgb(250, 162, 20)"/><stop offset="0.2000" stop-color="rgb(250, 202, 20)"/><stop offset="0.2333" stop-color="rgb(244, 231, 20)"/><stop offset="0.2667" stop-color="rgb(224, 234, 20)"/><stop offset="0.3000" stop-color="rgb(196, 234, 22)"/><stop offset="0.3333" stop-color="rgb(161, 231, 27)"/><stop offset="0.3667" stop-color="rgb(124, 228, 32)"/><stop offset="0.4000" stop-color="rgb(86, 224, 36)"/><stop offset="0.4333" stop-color="rgb(47, 220, 40)"/><stop offset="0.4667" stop-color="rgb(39, 207, 67)"/><stop offset="0.5000" stop-color="rgb(33, 192, 95)"/><stop offset="0.5333" stop-color="rgb(31, 176, 123)"/><stop offset="0.5667" stop-color="rgb(33, 156, 152)"/><stop offset="0.6000" stop-color="rgb(34, 137, 180)"/><stop offset="0.6333" stop-color="rgb(35, 114, 203)"/><stop offset="0.6667" stop-color="rgb(35, 89, 222)"/><stop offset="0.7000" stop-color="rgb(35, 64, 242)"/><stop offset="0.7333" stop-color="rgb(29, 50, 232)"/><stop offset="0.7667" stop-color="rgb(22, 37, 216)"/><stop offset="0.8000" stop-color="rgb(15, 25, 200)"/><stop offset="0.8333" stop-color="rgb(12, 19, 174)"/><stop offset="0.8667" stop-color="rgb(9, 14, 149)"/><stop offset="0.9000" stop-color="rgb(7, 8, 124)"/><stop offset="0.9333" stop-color="rgb(4, 4, 103)"/><stop offset="0.9667" stop-color="rgb(3, 3, 89)"/><stop offset="1.0000" stop-color="rgb(2, 2, 75)"/></linearGradient>
</defs>
<rect x="59" y="774.2" width="293" height="307.8" fill="url(#dg0)" filter="url(#det0)"/>
<rect x="59" y="846.2" width="293" height="20.8" fill="#020232"/>
<line x1="192.5" y1="774.2" x2="192.5" y2="1082" stroke="#000020" stroke-width="1.3" opacity="0.9"/>
<line x1="59" y1="1010" x2="352" y2="1010" stroke="#000020" stroke-width="1.2" opacity="0.85"/>
<rect x="360.8" y="774.5" width="295.2" height="307" fill="url(#dg1)" filter="url(#det1)"/>
<rect x="360.8" y="841.3" width="295.2" height="20.2" fill="#020232"/>
<line x1="501.5" y1="774.5" x2="501.5" y2="1081.5" stroke="#000020" stroke-width="1.3" opacity="0.9"/>
<line x1="360.8" y1="1006" x2="656" y2="1006" stroke="#000020" stroke-width="1.2" opacity="0.85"/>
<line x1="646.4" y1="774.5" x2="646.4" y2="1081.5" stroke="#000020" stroke-width="1" opacity="0.5"/>
<rect x="665.5" y="775.5" width="290.7" height="306" fill="url(#dg2)" filter="url(#det2)"/>
<rect x="665.5" y="840.7" width="290.7" height="19.2" fill="#020232"/>
<line x1="802.1" y1="775.5" x2="802.1" y2="1081.5" stroke="#000020" stroke-width="1.3" opacity="0.9"/>
<line x1="665.5" y1="1002.2" x2="956.2" y2="1002.2" stroke="#000020" stroke-width="1.2" opacity="0.85"/>
<rect x="966" y="774.9" width="292.9" height="307.3" fill="url(#dg3)" filter="url(#det3)"/>
<rect x="966" y="840.7" width="292.9" height="20.4" fill="#020232"/>
<line x1="1097.1" y1="774.9" x2="1097.1" y2="1082.2" stroke="#000020" stroke-width="1.3" opacity="0.9"/>
<line x1="966" y1="1004.4" x2="1258.9" y2="1004.4" stroke="#000020" stroke-width="1.2" opacity="0.85"/>
<line x1="1242.9" y1="774.9" x2="1242.9" y2="1082.2" stroke="#000020" stroke-width="1" opacity="0.5"/>
<text x="205.3" y="765.5" font-size="47.5" text-anchor="middle" font-weight="bold" fill="#000">IPVA</text>
<text x="505.5" y="765.5" font-size="47.5" text-anchor="middle" font-weight="bold" fill="#000">SPVA</text>
<text x="808" y="765.5" font-size="47.5" text-anchor="middle" font-weight="bold" fill="#000">AA-SPVA</text>
<text x="1109" y="765.5" font-size="47.5" text-anchor="middle" font-weight="bold" fill="#000">HAA-SPVA</text>
<rect x="1269.3" y="776" width="19.1" height="305" fill="url(#cbar)" stroke="#101030" stroke-width="0.8"/>
<text x="1299.5" y="804.5" font-size="31.5" text-anchor="start" font-weight="bold" fill="#000">25</text>
<text x="1299.5" y="939.2" font-size="31.5" text-anchor="start" font-weight="bold" fill="#000">15</text>
<text x="1299.5" y="1075.8" font-size="31.5" text-anchor="start" font-weight="bold" fill="#000">0</text>
<text x="-0.5" y="56.5" font-size="80" text-anchor="start" font-weight="bold" fill="#000">a</text>
<text x="678" y="56.5" font-size="80" text-anchor="start" font-weight="bold" fill="#000">b</text>
<text x="1342" y="56.5" font-size="80" text-anchor="start" font-weight="bold" fill="#000">c</text>
<text x="-3" y="713.5" font-size="80" text-anchor="start" font-weight="bold" fill="#000">d</text>
<text x="1343" y="664.5" font-size="80" text-anchor="start" font-weight="bold" fill="#000">e</text>
<text x="0" y="1246" font-size="80" text-anchor="start" font-weight="bold" fill="#000">f</text>
<text x="641.5" y="1230" font-size="80" text-anchor="start" font-weight="bold" fill="#000">g</text>
<text x="1344.5" y="1246.5" font-size="80" text-anchor="start" font-weight="bold" fill="#000">h</text>
<rect x="1458" y="59" width="538" height="433" fill="none" stroke="#000" stroke-width="3"/>
<line x1="1457.6" y1="492" x2="1457.6" y2="501.5" stroke="#000" stroke-width="3"/>
<text x="1457.6" y="528.7" font-size="28" text-anchor="middle" font-weight="bold" fill="#000">0</text>
<line x1="1595.7" y1="492" x2="1595.7" y2="501.5" stroke="#000" stroke-width="3"/>
<text x="1595.7" y="528.7" font-size="28" text-anchor="middle" font-weight="bold" fill="#000">200</text>
<line x1="1733.8" y1="492" x2="1733.8" y2="501.5" stroke="#000" stroke-width="3"/>
<text x="1733.8" y="528.7" font-size="28" text-anchor="middle" font-weight="bold" fill="#000">400</text>
<line x1="1871.9" y1="492" x2="1871.9" y2="501.5" stroke="#000" stroke-width="3"/>
<text x="1871.9" y="528.7" font-size="28" text-anchor="middle" font-weight="bold" fill="#000">600</text>
<line x1="1448.5" y1="492.4" x2="1458" y2="492.4" stroke="#000" stroke-width="3"/>
<text x="1445" y="500.9" font-size="28" text-anchor="end" font-weight="bold" fill="#000">0</text>
<line x1="1448.5" y1="337.7" x2="1458" y2="337.7" stroke="#000" stroke-width="3"/>
<text x="1445" y="346.2" font-size="28" text-anchor="end" font-weight="bold" fill="#000">10</text>
<line x1="1448.5" y1="183" x2="1458" y2="183" stroke="#000" stroke-width="3"/>
<text x="1445" y="191.5" font-size="28" text-anchor="end" font-weight="bold" fill="#000">20</text>
<text x="1578" y="562.6" font-size="33" text-anchor="start" font-weight="bold" fill="#000">Tensile strain (%)</text>
<text x="1401.5" y="273" font-size="32.4" text-anchor="middle" font-weight="bold" fill="#000" transform="rotate(-90 1401.5 273)">Tensile stress (MPa)</text>
<line x1="1477.6" y1="96.5" x2="1522.5" y2="96.5" stroke="#dc82c2" stroke-width="3.2" stroke-linecap="round"/>
<line x1="1477.6" y1="134" x2="1522.5" y2="134" stroke="#14a8a8" stroke-width="3.2" stroke-linecap="round"/>
<line x1="1477.6" y1="170.4" x2="1522.5" y2="170.4" stroke="#8a3ed6" stroke-width="3.2" stroke-linecap="round"/>
<text x="1533" y="104.9" font-size="25.5" text-anchor="start" font-weight="bold" fill="#000">AA-SPVA</text>
<path d="M1647,110.8 L1659,110.8 M1653,110.8 L1653,99.2" stroke="#000" stroke-width="1.7" fill="none"/>
<text x="1533" y="142" font-size="25.5" text-anchor="start" font-weight="bold" fill="#000">AA-IPVA</text>
<text x="1533" y="179.2" font-size="25.5" text-anchor="start" font-weight="bold" fill="#000">AA-SPVA</text>
<path d="M1647,172.7 L1647,187.5 M1651.8,172.7 L1651.8,187.5" stroke="#000" stroke-width="1.8" fill="none"/>
<path d="M1458,492.4 C1459.1,489.3 1462.1,479.6 1464.4,474 C1466.7,468.4 1469.3,462.9 1471.7,458.8 C1474.1,454.7 1476.5,451.9 1478.9,449.4 C1481.3,446.9 1483.7,445.4 1486.1,443.6 C1488.5,441.8 1489.7,440.9 1493.3,438.6 C1496.9,436.3 1503,432.8 1507.8,429.9 C1512.6,427 1516.8,424.5 1522.2,421.3 C1527.6,418.1 1533.7,414.6 1540,410.8 C1546.3,407 1553.3,402.6 1560,398.5 C1566.7,394.4 1573.3,390.6 1580,386.5 C1586.7,382.4 1593.3,378.1 1600,373.8 C1606.7,369.5 1613.3,365 1620,360.5 C1626.7,356 1633.3,351.5 1640,347 C1646.7,342.5 1653.3,338.1 1660,333.7 C1666.7,329.3 1673.3,325 1680,320.5 C1686.7,316 1691.7,312.2 1700,306.5 C1708.3,300.8 1720,292.9 1730,286 C1740,279.1 1750,271.8 1760,265 C1770,258.2 1780,252.1 1790,245.5 C1800,238.9 1810,232.1 1820,225.5 C1830,218.9 1840,212.4 1850,206 C1860,199.6 1870,193.2 1880,187 C1890,180.8 1900,174.8 1910,169 C1920,163.2 1933,156.4 1940,152.5 C1947,148.6 1949.2,146.9 1952,145.5 C1954.8,144.1 1956.2,144.1 1957,143.8 C1962.8,144 1963.3,145.5 1963.3,150.5 L1963.6,492.4" fill="none" stroke="#8a3ed6" stroke-width="3.2" stroke-linejoin="round"/>
<path d="M1458,492.4 C1459.1,490 1462.1,484.2 1464.4,478.3 C1466.7,472.4 1469.3,462.8 1471.7,456.8 C1474.1,450.8 1476.5,446.5 1478.9,442.4 C1481.3,438.3 1483.7,435.1 1486.1,432.1 C1488.5,429.1 1491,426.9 1493.3,424.6 C1495.6,422.3 1495.5,422.2 1500,418.3 C1504.5,414.4 1513.3,406.7 1520,401 C1526.7,395.3 1533.3,390.2 1540,384.3 C1546.7,378.4 1553.3,371.9 1560,365.6 C1566.7,359.3 1573.3,352.9 1580,346.5 C1586.7,340.1 1593.3,333.5 1600,327 C1606.7,320.5 1613.3,314 1620,307.5 C1626.7,301 1634.9,292.8 1640,288 C1645.1,283.2 1647.9,280.8 1650.5,278.5 C1653.1,276.2 1654.7,275.2 1655.5,274.5 C1657.9,274.5 1658.4,276 1658.4,281 L1658.7,492.4" fill="none" stroke="#14a8a8" stroke-width="3.2" stroke-linejoin="round"/>
<path d="M1458,492.4 C1459.1,490.3 1462.4,483.8 1464.4,479.7 C1466.4,475.6 1468.2,471.4 1470.2,467.5 C1472.2,463.6 1474.5,459.9 1476.7,456.6 C1478.9,453.4 1480.4,451.5 1483.2,448 C1486,444.5 1489.2,440.2 1493.3,435.5 C1497.4,430.8 1503,424.7 1507.8,419.6 C1512.6,414.5 1517.4,409.4 1522.2,404.7 C1527,400 1534.4,393.4 1536.8,391.2 L1537.5,391.2 L1537.5,492.4" fill="none" stroke="#dc82c2" stroke-width="3" stroke-linejoin="miter"/>
<path d="M1475,303.5 L1518.5,303.5 Q1512.5,333.5 1518.5,363.5 L1475,363.5 Q1481,333.5 1475,303.5 Z" fill="#fde2cf"/>
<path d="M1478,307.5 q10,0.7 20,0 t18,0" stroke="#c9a6e0" stroke-width="0.7" fill="none"/>
<path d="M1478,314 q10,1.5 20,0 t18,0" stroke="#c9a6e0" stroke-width="0.7" fill="none"/>
<path d="M1478,320.5 q10,1.8 20,0 t18,0" stroke="#c9a6e0" stroke-width="0.7" fill="none"/>
<path d="M1478,327 q10,2.7 20,0 t18,0" stroke="#c9a6e0" stroke-width="0.7" fill="none"/>
<path d="M1478,333.5 q10,1.4 20,0 t18,0" stroke="#c9a6e0" stroke-width="0.7" fill="none"/>
<path d="M1478,340 q10,2.5 20,0 t18,0" stroke="#c9a6e0" stroke-width="0.7" fill="none"/>
<path d="M1478,346.5 q10,-2.8 20,0 t18,0" stroke="#c9a6e0" stroke-width="0.7" fill="none"/>
<path d="M1478,353 q10,-0.2 20,0 t18,0" stroke="#c9a6e0" stroke-width="0.7" fill="none"/>
<path d="M1478,359.5 q10,2.7 20,0 t18,0" stroke="#c9a6e0" stroke-width="0.7" fill="none"/>
<path d="M1481,311.7 Q1496.75,310.9 1512.5,311.7" stroke="#8a3ed6" stroke-width="2" fill="none"/>
<path d="M1481,321.7 Q1496.75,320.9 1512.5,321.7" stroke="#8a3ed6" stroke-width="2" fill="none"/>
<path d="M1481,331.7 Q1496.75,330.9 1512.5,331.7" stroke="#8a3ed6" stroke-width="2" fill="none"/>
<path d="M1481,341.7 Q1496.75,340.9 1512.5,341.7" stroke="#8a3ed6" stroke-width="2" fill="none"/>
<path d="M1481,350.5 Q1496.75,349.7 1512.5,350.5" stroke="#8a3ed6" stroke-width="2" fill="none"/>
<path d="M1481,358.5 Q1496.75,357.7 1512.5,358.5" stroke="#8a3ed6" stroke-width="2" fill="none"/>
<line x1="1481.7" y1="299" x2="1481.7" y2="289" stroke="#d52b1e" stroke-width="1.8"/><path d="M1481.7,283.5 L1478.7,289 L1484.7,289 Z" fill="#d52b1e"/>
<line x1="1481.7" y1="369.5" x2="1481.7" y2="378.2" stroke="#d52b1e" stroke-width="1.8"/><path d="M1481.7,383.7 L1478.7,378.2 L1484.7,378.2 Z" fill="#d52b1e"/>
<line x1="1497.7" y1="299" x2="1497.7" y2="289" stroke="#d52b1e" stroke-width="1.8"/><path d="M1497.7,283.5 L1494.7,289 L1500.7,289 Z" fill="#d52b1e"/>
<line x1="1497.7" y1="369.5" x2="1497.7" y2="378.2" stroke="#d52b1e" stroke-width="1.8"/><path d="M1497.7,383.7 L1494.7,378.2 L1500.7,378.2 Z" fill="#d52b1e"/>
<line x1="1514" y1="299" x2="1514" y2="289" stroke="#d52b1e" stroke-width="1.8"/><path d="M1514,283.5 L1511,289 L1517,289 Z" fill="#d52b1e"/>
<line x1="1514" y1="369.5" x2="1514" y2="378.2" stroke="#d52b1e" stroke-width="1.8"/><path d="M1514,383.7 L1511,378.2 L1517,378.2 Z" fill="#d52b1e"/>
<path d="M1673.3,381.7 L1715,381.7 Q1709,413.4 1715,445 L1673.3,445 Q1679.3,413.4 1673.3,381.7 Z" fill="#fde2cf"/>
<path d="M1677.7,383.7 C1677.9,385.1 1678.1,389.5 1679,392.4 C1680,395.3 1683.6,398.2 1683.4,401.1 C1683.2,404 1678.7,406.9 1677.9,409.8 C1677.1,412.7 1678.2,415.6 1678.4,418.5 C1678.6,421.4 1679.7,424.3 1679.3,427.2 C1679,430.1 1676.5,433 1676.3,435.9 C1676.1,438.8 1678.1,443.1 1678.4,444.6" stroke="#2bb0b0" stroke-width="1.3" fill="none"/>
<path d="M1685.4,383.7 C1685.7,385.1 1688.4,389.5 1687.3,392.4 C1686.2,395.3 1679.9,398.2 1678.9,401.1 C1678,404 1681.4,406.9 1681.4,409.8 C1681.4,412.7 1677.9,415.6 1678.9,418.5 C1679.9,421.4 1686.3,424.3 1687.5,427.2 C1688.7,430.1 1687.7,433 1686.1,435.9 C1684.6,438.8 1679.6,443.1 1678.3,444.6" stroke="#2bb0b0" stroke-width="1.3" fill="none"/>
<path d="M1695.1,383.7 C1695.1,385.1 1695.5,389.5 1694.9,392.4 C1694.2,395.3 1691.8,398.2 1691.1,401.1 C1690.4,404 1691.7,406.9 1690.7,409.8 C1689.7,412.7 1686.4,415.6 1685.2,418.5 C1684,421.4 1682.7,424.3 1683.5,427.2 C1684.2,430.1 1689.6,433 1689.6,435.9 C1689.7,438.8 1685,443.1 1684,444.6" stroke="#2bb0b0" stroke-width="1.3" fill="none"/>
<path d="M1691.1,383.7 C1691.2,385.1 1692,389.5 1691.7,392.4 C1691.4,395.3 1688.7,398.2 1689.2,401.1 C1689.6,404 1693.5,406.9 1694.4,409.8 C1695.2,412.7 1693.3,415.6 1694.1,418.5 C1694.8,421.4 1698.8,424.3 1698.9,427.2 C1699.1,430.1 1695.4,433 1695,435.9 C1694.6,438.8 1696.2,443.1 1696.5,444.6" stroke="#2bb0b0" stroke-width="1.3" fill="none"/>
<path d="M1700.3,383.7 C1700.6,385.1 1702.3,389.5 1702.2,392.4 C1702.2,395.3 1700.6,398.2 1699.8,401.1 C1699,404 1696.6,406.9 1697.6,409.8 C1698.7,412.7 1704.8,415.6 1706.3,418.5 C1707.7,421.4 1706.6,424.3 1706.2,427.2 C1705.9,430.1 1705,433 1704.4,435.9 C1703.8,438.8 1703.1,443.1 1702.8,444.6" stroke="#2bb0b0" stroke-width="1.3" fill="none"/>
<path d="M1703.6,383.7 C1703.4,385.1 1702.6,389.5 1702.6,392.4 C1702.5,395.3 1703.6,398.2 1703.3,401.1 C1702.9,404 1699.7,406.9 1700.6,409.8 C1701.6,412.7 1708.3,415.6 1709,418.5 C1709.7,421.4 1704.4,424.3 1704.6,427.2 C1704.8,430.1 1710,433 1710,435.9 C1709.9,438.8 1705.4,443.1 1704.4,444.6" stroke="#2bb0b0" stroke-width="1.3" fill="none"/>
<path d="M1712,383.7 C1712,385.1 1713.1,389.5 1712,392.4 C1710.9,395.3 1706,398.2 1705.3,401.1 C1704.6,404 1706.7,406.9 1707.8,409.8 C1708.9,412.7 1711.5,415.6 1712,418.5 C1712.5,421.4 1710.9,424.3 1710.9,427.2 C1710.9,430.1 1712.1,433 1712,435.9 C1711.9,438.8 1710.4,443.1 1710.1,444.6" stroke="#2bb0b0" stroke-width="1.3" fill="none"/>
<line x1="1678.3" y1="376" x2="1678.3" y2="365.5" stroke="#d52b1e" stroke-width="1.8"/><path d="M1678.3,360 L1675.3,365.5 L1681.3,365.5 Z" fill="#d52b1e"/>
<line x1="1678.3" y1="450" x2="1678.3" y2="461" stroke="#d52b1e" stroke-width="1.8"/><path d="M1678.3,466.5 L1675.3,461 L1681.3,461 Z" fill="#d52b1e"/>
<line x1="1694" y1="376" x2="1694" y2="365.5" stroke="#d52b1e" stroke-width="1.8"/><path d="M1694,360 L1691,365.5 L1697,365.5 Z" fill="#d52b1e"/>
<line x1="1694" y1="450" x2="1694" y2="461" stroke="#d52b1e" stroke-width="1.8"/><path d="M1694,466.5 L1691,461 L1697,461 Z" fill="#d52b1e"/>
<line x1="1709.3" y1="376" x2="1709.3" y2="365.5" stroke="#d52b1e" stroke-width="1.8"/><path d="M1709.3,360 L1706.3,365.5 L1712.3,365.5 Z" fill="#d52b1e"/>
<line x1="1709.3" y1="450" x2="1709.3" y2="461" stroke="#d52b1e" stroke-width="1.8"/><path d="M1709.3,466.5 L1706.3,461 L1712.3,461 Z" fill="#d52b1e"/>
<path d="M1909,228 L1952.6,228 Q1946.6,259.5 1952.6,291 L1909,291 Q1915,259.5 1909,228 Z" fill="#fde2cf"/>
<path d="M1913,230 q-2.1,15 0,30 t0,29" stroke="#d5b3e6" stroke-width="0.7" fill="none"/>
<path d="M1917,230 q0.4,15 0,30 t0,29" stroke="#d5b3e6" stroke-width="0.7" fill="none"/>
<path d="M1921,230 q-1.0,15 0,30 t0,29" stroke="#d5b3e6" stroke-width="0.7" fill="none"/>
<path d="M1925,230 q0.8,15 0,30 t0,29" stroke="#d5b3e6" stroke-width="0.7" fill="none"/>
<path d="M1929,230 q1.0,15 0,30 t0,29" stroke="#d5b3e6" stroke-width="0.7" fill="none"/>
<path d="M1933,230 q-3.5,15 0,30 t0,29" stroke="#d5b3e6" stroke-width="0.7" fill="none"/>
<path d="M1937,230 q-3.9,15 0,30 t0,29" stroke="#d5b3e6" stroke-width="0.7" fill="none"/>
<path d="M1941,230 q2.7,15 0,30 t0,29" stroke="#d5b3e6" stroke-width="0.7" fill="none"/>
<path d="M1945,230 q-1.9,15 0,30 t0,29" stroke="#d5b3e6" stroke-width="0.7" fill="none"/>
<path d="M1949,230 q-2.1,15 0,30 t0,29" stroke="#d5b3e6" stroke-width="0.7" fill="none"/>
<path d="M1915.5,231 Q1916.7,259.5 1915.5,288" stroke="#8a3ed6" stroke-width="2" fill="none"/>
<path d="M1924.5,231 Q1925.7,259.5 1924.5,288" stroke="#8a3ed6" stroke-width="2" fill="none"/>
<path d="M1932.5,231 Q1933.7,259.5 1932.5,288" stroke="#8a3ed6" stroke-width="2" fill="none"/>
<path d="M1944.5,231 Q1945.7,259.5 1944.5,288" stroke="#8a3ed6" stroke-width="2" fill="none"/>
<line x1="1915.1" y1="222" x2="1915.1" y2="211" stroke="#d52b1e" stroke-width="1.8"/><path d="M1915.1,205.5 L1912.1,211 L1918.1,211 Z" fill="#d52b1e"/>
<line x1="1915.1" y1="295.4" x2="1915.1" y2="305.7" stroke="#d52b1e" stroke-width="1.8"/><path d="M1915.1,311.2 L1912.1,305.7 L1918.1,305.7 Z" fill="#d52b1e"/>
<line x1="1930.9" y1="222" x2="1930.9" y2="211" stroke="#d52b1e" stroke-width="1.8"/><path d="M1930.9,205.5 L1927.9,211 L1933.9,211 Z" fill="#d52b1e"/>
<line x1="1930.9" y1="295.4" x2="1930.9" y2="305.7" stroke="#d52b1e" stroke-width="1.8"/><path d="M1930.9,311.2 L1927.9,305.7 L1933.9,305.7 Z" fill="#d52b1e"/>
<line x1="1946.6" y1="222" x2="1946.6" y2="211" stroke="#d52b1e" stroke-width="1.8"/><path d="M1946.6,205.5 L1943.6,211 L1949.6,211 Z" fill="#d52b1e"/>
<line x1="1946.6" y1="295.4" x2="1946.6" y2="305.7" stroke="#d52b1e" stroke-width="1.8"/><path d="M1946.6,311.2 L1943.6,305.7 L1949.6,305.7 Z" fill="#d52b1e"/>
<rect x="1457" y="668" width="542.5" height="436.7" fill="none" stroke="#000" stroke-width="3"/>
<line x1="1457" y1="1104.7" x2="1457" y2="1114" stroke="#000" stroke-width="3"/>
<text x="1455.5" y="1141" font-size="28" text-anchor="middle" font-weight="bold" fill="#000" letter-spacing="-1.5">0.01</text>
<line x1="1824.3" y1="1104.7" x2="1824.3" y2="1114" stroke="#000" stroke-width="3"/>
<text x="1822.8" y="1141" font-size="28" text-anchor="middle" font-weight="bold" fill="#000" letter-spacing="-1.5">0.1</text>
<line x1="1567.6" y1="1104.7" x2="1567.6" y2="1110" stroke="#000" stroke-width="3"/>
<line x1="1632.2" y1="1104.7" x2="1632.2" y2="1110" stroke="#000" stroke-width="3"/>
<line x1="1678.1" y1="1104.7" x2="1678.1" y2="1110" stroke="#000" stroke-width="3"/>
<line x1="1713.7" y1="1104.7" x2="1713.7" y2="1110" stroke="#000" stroke-width="3"/>
<line x1="1742.8" y1="1104.7" x2="1742.8" y2="1110" stroke="#000" stroke-width="3"/>
<line x1="1767.4" y1="1104.7" x2="1767.4" y2="1110" stroke="#000" stroke-width="3"/>
<line x1="1788.7" y1="1104.7" x2="1788.7" y2="1110" stroke="#000" stroke-width="3"/>
<line x1="1807.5" y1="1104.7" x2="1807.5" y2="1110" stroke="#000" stroke-width="3"/>
<line x1="1934.9" y1="1104.7" x2="1934.9" y2="1110" stroke="#000" stroke-width="3"/>
<text x="1670" y="1180" font-size="33" text-anchor="start" font-weight="bold" fill="#000">q (Å<tspan font-size="21" dy="-13">−1</tspan><tspan dy="13">)</tspan></text>
<text x="1436" y="886" font-size="33.3" text-anchor="middle" font-weight="bold" fill="#000" transform="rotate(-90 1436 886)">Iq (arb. units)</text>
<line x1="1797.5" y1="698.4" x2="1845.5" y2="698.4" stroke="#1f8a22" stroke-width="3.2" stroke-linecap="round"/>
<text x="1852" y="707" font-size="25.5" text-anchor="start" font-weight="bold" fill="#000">IPVA</text>
<line x1="1797.5" y1="729.6" x2="1845.5" y2="729.6" stroke="#4470d6" stroke-width="3.2" stroke-linecap="round"/>
<text x="1852" y="738.2" font-size="25.5" text-anchor="start" font-weight="bold" fill="#000">SPVA</text>
<line x1="1797.5" y1="760.8" x2="1845.5" y2="760.8" stroke="#8a3fd4" stroke-width="3.2" stroke-linecap="round"/>
<text x="1852" y="769.4" font-size="25.5" text-anchor="start" font-weight="bold" fill="#000">AA-SPVA</text>
<line x1="1797.5" y1="792" x2="1845.5" y2="792" stroke="#d42030" stroke-width="3.2" stroke-linecap="round"/>
<text x="1852" y="800.6" font-size="25.5" text-anchor="start" font-weight="bold" fill="#000">HAA-SPVA</text>
<clipPath id="clipE"><rect x="1457" y="668" width="542" height="437"/></clipPath>
<g clip-path="url(#clipE)">
<path d="M1527.5,666.5 L1528.3,666.8 L1529.2,667.2 L1530.3,667.7 L1531.5,668.2 L1532.8,668.8 L1534.2,669.4 L1535.7,670 L1537.2,670.7 L1538.8,671.4 L1540.4,672.1 L1542,672.8 L1543.7,673.5 L1545.3,674.2 L1546.9,674.9 L1548.5,675.6 L1550,676.2 L1551.3,676.8 L1552.7,677.4 L1554,678 L1555.4,678.6 L1556.8,679.2 L1558.1,679.8 L1559.5,680.5 L1560.9,681.1 L1562.3,681.7 L1563.8,682.3 L1565.2,683 L1566.6,683.6 L1568,684.2 L1569.4,684.9 L1570.8,685.5 L1572.2,686.2 L1573.6,686.8 L1575,687.5 L1576.4,688.2 L1577.8,688.8 L1579.2,689.5 L1580.6,690.2 L1581.9,690.9 L1583.3,691.6 L1584.7,692.3 L1586.1,693 L1587.5,693.7 L1588.9,694.4 L1590.3,695.1 L1591.7,695.8 L1593.1,696.5 L1594.4,697.2 L1595.8,697.9 L1597.2,698.6 L1598.6,699.3 L1600,700 L1601.4,700.7 L1602.8,701.4 L1604.2,702.1 L1605.6,702.8 L1606.9,703.4 L1608.3,704.1 L1609.7,704.8 L1611.1,705.5 L1612.5,706.2 L1613.9,706.9 L1615.3,707.5 L1616.7,708.2 L1618.1,708.9 L1619.4,709.6 L1620.8,710.3 L1622.2,711.1 L1623.6,711.8 L1625,712.5 L1626.3,713.2 L1627.6,713.9 L1628.9,714.6 L1630.3,715.3 L1631.6,716 L1632.9,716.7 L1634.2,717.4 L1635.5,718.1 L1636.8,718.9 L1638.2,719.6 L1639.5,720.3 L1640.8,721 L1642.1,721.8 L1643.4,722.5 L1644.7,723.3 L1646.1,724 L1647.4,724.7 L1648.7,725.5 L1650,726.2 L1651.3,727 L1652.6,727.8 L1653.9,728.5 L1655.3,729.3 L1656.6,730 L1657.9,730.8 L1659.2,731.6 L1660.5,732.3 L1661.8,733.1 L1663.2,733.9 L1664.5,734.7 L1665.8,735.5 L1667.1,736.3 L1668.4,737.1 L1669.7,737.9 L1671.1,738.7 L1672.4,739.6 L1673.7,740.4 L1675,741.2 L1676.3,742.1 L1677.5,742.9 L1678.8,743.8 L1680.1,744.7 L1681.4,745.6 L1682.7,746.5 L1683.9,747.4 L1685.2,748.3 L1686.5,749.2 L1687.8,750.2 L1689.1,751.1 L1690.4,752 L1691.6,752.9 L1692.9,753.8 L1694.1,754.7 L1695.3,755.5 L1696.5,756.4 L1697.7,757.2 L1698.9,758 L1700,758.8 L1701.5,759.7 L1702.9,760.6 L1704.2,761.5 L1705.6,762.3 L1706.9,763.1 L1708.1,763.8 L1709.4,764.6 L1710.6,765.3 L1711.9,766 L1713.1,766.8 L1714.4,767.6 L1715.8,768.4 L1717.1,769.3 L1718.5,770.2 L1720,771.2 L1721.1,772 L1722.3,772.9 L1723.5,773.7 L1724.7,774.5 L1725.9,775.4 L1727.1,776.3 L1728.4,777.2 L1729.6,778.1 L1730.9,779.1 L1732.2,780 L1733.5,781 L1734.8,781.9 L1736.1,782.9 L1737.3,783.9 L1738.6,784.9 L1739.9,785.9 L1741.2,786.9 L1742.5,787.9 L1743.7,789 L1745,790 L1746.1,790.9 L1747.3,791.9 L1748.4,792.9 L1749.5,793.9 L1750.7,794.9 L1751.8,795.9 L1753,796.9 L1754.1,797.9 L1755.2,798.9 L1756.4,800 L1757.5,801 L1758.6,802.1 L1759.8,803.1 L1760.9,804.1 L1762,805.2 L1763.2,806.3 L1764.3,807.3 L1765.5,808.4 L1766.6,809.4 L1767.7,810.5 L1768.9,811.6 L1770,812.3 L1771.1,813.3 L1772.3,814.7 L1773.4,815.5 L1774.5,816.8 L1775.7,817.3 L1776.8,818.6 L1778,819.8 L1779.1,820.5 L1780.2,822.1 L1781.4,823.1 L1782.5,823.3 L1783.6,824.3 L1784.8,825.8 L1785.9,827.3 L1787,827.7 L1788.2,828.5 L1789.3,829.8 L1790.5,830.3 L1791.6,831.6 L1792.7,832.9 L1793.9,834 L1795,834.6 L1796.1,835.6 L1797.3,836.6 L1798.4,838 L1799.5,838.8 L1800.7,839.3 L1801.8,841.8 L1803,842.4 L1804.1,843.6 L1805.2,843.7 L1806.4,846.4 L1807.5,847.1 L1808.6,846.6 L1809.8,848.1 L1810.9,850 L1812,851 L1813.2,852.5 L1814.3,852.4 L1815.5,854.4 L1816.6,855 L1817.7,855.1 L1818.9,856.8 L1820,858.5 L1821.2,859.4 L1822.4,859.5 L1823.6,860.8 L1824.8,860.3 L1826,861.8 L1827.1,864.3 L1828.3,864.3 L1829.5,864.6 L1830.7,866.6 L1831.9,867.9 L1833.1,868.8 L1834.3,869 L1835.5,870.1 L1836.7,871.2 L1837.9,872.9 L1839,873.1 L1840.2,873.7 L1841.4,874.8 L1842.6,874.5 L1843.8,875.4 L1845,878 L1846.3,879.7 L1847.6,879.6 L1848.9,880 L1850.3,880.4 L1851.6,882.1 L1852.9,884.3 L1854.2,884.6 L1855.5,884.9 L1856.8,886.6 L1858.2,885.8 L1859.5,887.4 L1860.8,889.4 L1862.1,889.2 L1863.4,889.7 L1864.7,890 L1866.1,891.6 L1867.4,893.4 L1868.7,891.7 L1870,894.5 L1871.4,895.4 L1872.8,896.3 L1874.2,896.7 L1875.6,897.7 L1876.9,897.7 L1878.3,898.5 L1879.7,898.9 L1881.1,898.7 L1882.5,901.5 L1883.9,901.4 L1885.3,901.1 L1886.7,902.6 L1888.1,903.2 L1889.4,903.5 L1890.8,904.1 L1892.2,905.2 L1893.6,906 L1895,906.5 L1896.5,906.7 L1897.9,906.1 L1899.4,907.2 L1900.9,907.6 L1902.4,909.1 L1903.8,910.3 L1905.3,910.6 L1906.8,911 L1908.2,911.5 L1909.7,910.5 L1911.2,912.4 L1912.6,912.3 L1914.1,911.2 L1915.6,911.4 L1917.1,911.8 L1918.5,914 L1920,913.1 L1921.6,913.1 L1923.1,914.8 L1924.7,914.5 L1926.2,914.1 L1927.8,914.7 L1929.4,915.9 L1930.9,915.3 L1932.5,915.9 L1934.1,917.3 L1935.6,917 L1937.2,916.9 L1938.8,917.6 L1940.3,916.7 L1941.9,917.9 L1943.4,918.3 L1945,917.9 L1946.6,918 L1948.1,920.3 L1949.6,919.6 L1951.2,919 L1952.7,920.3 L1954.2,921.1 L1955.8,919.3 L1957.3,919.5 L1958.9,920.1 L1960.4,921.8 L1962,920.5 L1963.5,922.2 L1965.1,922.3 L1966.7,922.2 L1968.4,921.6 L1970,923.7 L1971.5,923.5 L1973.1,922.9 L1974.8,922.4 L1976.6,923.7 L1978.3,923.2 L1980.1,923.9 L1982,923.4 L1983.8,924.4 L1985.6,923.1 L1987.3,923.9 L1989,925.8 L1990.6,925.7 L1992.2,924.4 L1993.6,926 L1994.9,924.7 L1996.1,926.4 L1997.1,926 L1998,925.3" fill="none" stroke="#1f8a22" stroke-width="3" stroke-linejoin="round" stroke-linecap="round"/>
<path d="M1487,667.5 L1487.2,668.4 L1487.3,669.6 L1487.5,670.9 L1487.8,672.5 L1488,674.1 L1488.3,675.9 L1488.6,677.7 L1489,679.6 L1489.3,681.4 L1489.6,683.2 L1490,685 L1490.3,686.5 L1490.6,687.9 L1491,689.4 L1491.4,690.9 L1491.7,692.5 L1492.1,694 L1492.5,695.5 L1492.9,697.1 L1493.3,698.7 L1493.7,700.2 L1494.1,701.8 L1494.6,703.4 L1495,705 L1495.4,706.5 L1495.8,708.1 L1496.2,709.7 L1496.7,711.3 L1497.1,713 L1497.5,714.6 L1498,716.2 L1498.4,717.9 L1498.9,719.4 L1499.3,721 L1499.8,722.4 L1500.3,723.8 L1500.8,725.1 L1501.2,726.2 L1502.1,728.1 L1503,729.7 L1504,731.1 L1504.9,732.3 L1505.9,733.4 L1506.8,734.4 L1507.8,735.4 L1508.8,736.2 L1510,737.5 L1511.1,738.4 L1512.3,739.1 L1513.9,739.7 L1516.2,740.5 L1517.3,740.8 L1518.4,741.1 L1519.6,741.4 L1520.8,741.7 L1522.2,742 L1523.5,742.3 L1525,742.6 L1526.5,742.9 L1528.1,743.2 L1529.8,743.5 L1531.6,743.9 L1533.5,744.2 L1535.4,744.6 L1537.5,745 L1538.7,745.2 L1539.9,745.5 L1541.2,745.7 L1542.6,746 L1544,746.2 L1545.4,746.5 L1546.8,746.8 L1548.3,747.1 L1549.8,747.3 L1551.3,747.6 L1552.9,747.9 L1554.4,748.2 L1556,748.5 L1557.6,748.8 L1559.2,749.1 L1560.8,749.4 L1562.4,749.7 L1564,750 L1565.6,750.3 L1567.2,750.6 L1568.8,750.9 L1570.4,751.2 L1572,751.4 L1573.5,751.7 L1575,752 L1576.5,752.3 L1578,752.6 L1579.6,752.8 L1581.1,753.1 L1582.7,753.4 L1584.3,753.7 L1585.9,753.9 L1587.4,754.2 L1589,754.5 L1590.6,754.8 L1592.2,755 L1593.7,755.3 L1595.3,755.6 L1596.9,755.9 L1598.4,756.1 L1599.9,756.4 L1601.4,756.7 L1602.9,756.9 L1604.4,757.2 L1605.8,757.5 L1607.2,757.7 L1608.6,758 L1609.9,758.2 L1611.2,758.5 L1612.5,758.8 L1614.3,759.1 L1616,759.5 L1617.7,759.8 L1619.2,760.1 L1620.8,760.5 L1622.2,760.8 L1623.7,761.1 L1625.1,761.4 L1626.5,761.7 L1627.8,762.1 L1629.2,762.4 L1630.5,762.7 L1631.9,763 L1633.2,763.4 L1634.6,763.7 L1636,764.1 L1637.5,764.5 L1639,764.9 L1640.5,765.3 L1642,765.7 L1643.5,766.1 L1645,766.6 L1646.5,767 L1648,767.5 L1649.6,767.9 L1651.1,768.4 L1652.6,768.8 L1654,769.3 L1655.5,769.7 L1657,770.2 L1658.4,770.7 L1659.8,771.1 L1661.2,771.6 L1662.5,772 L1664.1,772.5 L1665.7,773.1 L1667.3,773.6 L1668.8,774.2 L1670.3,774.7 L1671.8,775.3 L1673.3,775.8 L1674.7,776.4 L1676.1,776.9 L1677.5,777.5 L1678.8,778 L1680.1,778.5 L1681.3,779 L1682.5,779.5 L1684.2,780.2 L1685.7,780.8 L1687,781.4 L1688.3,781.9 L1689.5,782.5 L1690.7,783.1 L1692,783.8 L1693.4,784.6 L1695,785.5 L1696.1,786.2 L1697.3,787 L1698.6,787.8 L1699.9,788.7 L1701.3,789.6 L1702.7,790.6 L1704.1,791.6 L1705.4,792.5 L1706.8,793.5 L1708.1,794.4 L1709.3,795.3 L1710.5,796.1 L1711.5,796.8 L1712.5,797.5 L1714.1,798.6 L1715.1,799.1 L1715.8,799.5 L1716.6,800 L1717.9,800.9 L1720,802.5 L1720.8,803.1 L1721.7,803.8 L1722.7,804.5 L1723.7,805.3 L1724.7,806.2 L1725.9,807 L1727,808 L1728.2,808.9 L1729.5,809.9 L1730.8,810.9 L1732.1,811.9 L1733.4,813 L1734.7,814 L1736,815.1 L1737.3,816.2 L1738.7,817.2 L1740,818.3 L1741.3,819.4 L1742.5,820.4 L1743.8,821.5 L1745,822.5 L1746.1,823.5 L1747.3,824.5 L1748.4,825.4 L1749.5,826.4 L1750.7,827.4 L1751.8,828.5 L1753,829.5 L1754.1,830.5 L1755.2,831.5 L1756.4,832.6 L1757.5,833.6 L1758.6,834.6 L1759.8,835.7 L1760.9,836.7 L1762,837.8 L1763.2,838.8 L1764.3,839.8 L1765.5,840.9 L1766.6,841.9 L1767.7,842.9 L1768.9,844 L1770,845 L1771.1,846 L1772.3,847.1 L1773.4,848.1 L1774.5,849.1 L1775.7,850.2 L1776.8,851.2 L1778,852.2 L1779.1,853.3 L1780.2,854.3 L1781.4,855.4 L1782.5,856.4 L1783.6,857.4 L1784.8,858.5 L1785.9,859.5 L1787,860.5 L1788.2,861.5 L1789.3,862.6 L1790.5,863.6 L1791.6,864.6 L1792.7,865.5 L1793.9,866.5 L1795,867.6 L1796.2,868.6 L1797.4,869.5 L1798.6,870.4 L1799.8,871.4 L1801,872.4 L1802.1,873.3 L1803.3,874.1 L1804.5,875.1 L1805.7,876 L1806.9,877.1 L1808.1,878.2 L1809.3,879.1 L1810.5,879.7 L1811.7,880.6 L1812.9,881.4 L1814,882.2 L1815.2,883.1 L1816.4,884.4 L1817.6,885.3 L1818.8,886.4 L1820,887.9 L1821.1,888.5 L1822.3,889.6 L1823.4,890.3 L1824.5,891.2 L1825.7,892.6 L1826.8,893.5 L1828,895.1 L1829.1,896.9 L1830.2,897.6 L1831.4,898.1 L1832.5,900.2 L1833.6,901.3 L1834.8,902.3 L1835.9,903.7 L1837,904.6 L1838.2,905.8 L1839.3,906.1 L1840.5,908.2 L1841.6,909.2 L1842.7,908.8 L1843.9,910.8 L1845,911.6 L1846.3,912.2 L1847.6,913.3 L1848.9,914.1 L1850.3,915.9 L1851.6,915.9 L1852.9,917.3 L1854.2,917.2 L1855.5,919 L1856.8,919.8 L1858.2,919.7 L1859.5,920.6 L1860.8,922 L1862.1,922.4 L1863.4,922.6 L1864.7,922.8 L1866.1,923.7 L1867.4,925.2 L1868.7,924.8 L1870,927.1 L1871.3,926.5 L1872.6,928.6 L1873.9,928.1 L1875.3,930.2 L1876.6,930.5 L1877.9,930.8 L1879.2,931.6 L1880.5,932.6 L1881.8,933.2 L1883.2,933.4 L1884.5,934 L1885.8,935.3 L1887.1,936.8 L1888.4,936.9 L1889.7,936.5 L1891.1,938.7 L1892.4,939.2 L1893.7,940.2 L1895,939.4 L1896.5,941.2 L1897.9,940.5 L1899.4,942.3 L1900.9,942.2 L1902.4,942.8 L1903.8,944.7 L1905.3,943.8 L1906.8,945.2 L1908.2,946.5 L1909.7,945.8 L1911.2,946.3 L1912.6,948.2 L1914.1,947.8 L1915.6,948.9 L1917.1,948.1 L1918.5,949.2 L1920,949.3 L1921.5,950.8 L1922.9,950.1 L1924.4,952.3 L1925.9,950.8 L1927.4,952.6 L1928.8,951.6 L1930.3,952.4 L1931.8,953.9 L1933.2,952.9 L1934.7,953.3 L1936.2,954.7 L1937.6,954.4 L1939.1,954 L1940.6,956.2 L1942.1,954.9 L1943.5,955 L1945,955.9 L1946.6,956.8 L1948.1,957.4 L1949.6,956.5 L1951.2,957.3 L1952.7,957 L1954.2,958.1 L1955.8,959.1 L1957.3,959.3 L1958.9,960 L1960.4,960 L1962,960.5 L1963.5,960.5 L1965.1,960.3 L1966.7,960.1 L1968.4,961.3 L1970,960.9 L1971.5,960.7 L1973.1,961.7 L1974.8,962.9 L1976.6,961.7 L1978.3,962.9 L1980.1,962.8 L1982,963.4 L1983.8,962.9 L1985.6,964.9 L1987.3,963.7 L1989,964.7 L1990.6,964.6 L1992.2,964.1 L1993.6,965.4 L1994.9,964.8 L1996.1,964.8 L1997.1,964.9 L1998,965.3" fill="none" stroke="#4470d6" stroke-width="3" stroke-linejoin="round" stroke-linecap="round"/>
<path d="M1485,667.5 L1485.1,668.4 L1485.3,669.4 L1485.5,670.6 L1485.7,671.9 L1485.9,673.4 L1486.1,674.9 L1486.4,676.6 L1486.6,678.3 L1486.9,680 L1487.2,681.8 L1487.5,683.7 L1487.7,685.5 L1488,687.3 L1488.3,689.1 L1488.5,690.8 L1488.8,692.5 L1489,694 L1489.1,695.4 L1489.3,696.9 L1489.5,698.4 L1489.7,700 L1489.9,701.5 L1490,703 L1490.2,704.6 L1490.4,706.1 L1490.6,707.6 L1490.8,709.2 L1491,710.7 L1491.2,712.3 L1491.4,713.8 L1491.7,715.4 L1491.9,716.9 L1492.2,718.5 L1492.5,720 L1492.8,721.5 L1493.1,722.9 L1493.5,724.4 L1493.8,726 L1494.2,727.5 L1494.6,729 L1495,730.6 L1495.4,732.1 L1495.8,733.6 L1496.2,735.1 L1496.6,736.6 L1497.1,738.1 L1497.5,739.6 L1497.9,741 L1498.4,742.4 L1498.8,743.7 L1499.2,745 L1499.6,746.3 L1500,747.5 L1500.6,749.3 L1501.2,751 L1501.7,752.6 L1502.2,754.1 L1502.7,755.5 L1503.3,756.9 L1503.8,758.2 L1504.4,759.5 L1505.1,760.9 L1505.8,762.2 L1506.6,763.6 L1507.5,765 L1508.3,766.2 L1509.1,767.3 L1510.1,768.5 L1511,769.7 L1512,770.8 L1513.1,772 L1514.1,773.2 L1515.2,774.3 L1516.3,775.5 L1517.4,776.7 L1518.5,777.8 L1519.5,779 L1520.6,780.2 L1521.6,781.3 L1522.5,782.5 L1523.5,783.8 L1524.4,785 L1525.3,786.3 L1526.2,787.6 L1527,788.9 L1527.9,790.2 L1528.8,791.5 L1529.6,792.8 L1530.5,794 L1531.3,795.3 L1532.2,796.5 L1533.1,797.7 L1534,798.9 L1535,800 L1536.1,801.2 L1537.2,802.3 L1538.3,803.5 L1539.5,804.5 L1540.7,805.6 L1541.9,806.7 L1543.1,807.7 L1544.3,808.7 L1545.5,809.7 L1546.7,810.7 L1547.8,811.7 L1548.9,812.7 L1550,813.8 L1551.2,814.9 L1552.4,816.1 L1553.5,817.2 L1554.6,818.3 L1555.7,819.4 L1556.8,820.6 L1557.9,821.7 L1559,822.8 L1560.1,823.9 L1561.3,825.1 L1562.5,826.2 L1563.6,827.3 L1564.7,828.3 L1565.8,829.4 L1567,830.4 L1568.2,831.5 L1569.4,832.6 L1570.6,833.7 L1571.8,834.7 L1573,835.8 L1574.2,836.9 L1575.3,837.9 L1576.4,839 L1577.5,840 L1578.7,841.2 L1579.9,842.3 L1581,843.5 L1582.1,844.6 L1583.2,845.7 L1584.3,846.8 L1585.4,847.9 L1586.5,849 L1587.6,850.2 L1588.8,851.3 L1590,852.5 L1591.1,853.5 L1592.1,854.5 L1593.2,855.6 L1594.3,856.6 L1595.4,857.6 L1596.5,858.7 L1597.6,859.7 L1598.8,860.8 L1599.9,861.9 L1601.1,863 L1602.4,864.1 L1603.7,865.1 L1605,866.2 L1606.1,867.2 L1607.3,868.1 L1608.5,869.1 L1609.8,870 L1611,871 L1612.4,872 L1613.7,873 L1615,874 L1616.3,875 L1617.6,875.9 L1619,876.9 L1620.2,877.8 L1621.5,878.7 L1622.7,879.6 L1623.9,880.4 L1625,881.2 L1626.4,882.3 L1627.7,883.2 L1628.9,884.1 L1630.1,885 L1631.2,885.8 L1632.3,886.6 L1633.5,887.3 L1634.6,888.1 L1635.8,888.9 L1637.1,889.6 L1638.5,890.4 L1640,891.2 L1641.2,891.9 L1642.5,892.5 L1643.8,893.2 L1645.2,893.9 L1646.6,894.6 L1648,895.3 L1649.5,896 L1650.9,896.7 L1652.4,897.3 L1653.9,898 L1655.4,898.6 L1656.9,899.2 L1658.3,899.8 L1659.8,900.3 L1661.1,900.8 L1662.5,901.2 L1664.1,901.7 L1665.7,902.2 L1667.3,902.6 L1668.9,902.9 L1670.5,903.3 L1672,903.5 L1673.6,903.8 L1675.1,904 L1676.6,904.1 L1678.1,904.3 L1679.6,904.4 L1681.1,904.5 L1682.5,904.5 L1684.2,904.5 L1685.9,904.4 L1687.6,904.3 L1689.3,904.1 L1690.9,903.9 L1692.5,903.6 L1694.1,903.3 L1695.7,903 L1697.2,902.7 L1698.6,902.3 L1700,902 L1701.8,901.5 L1703.6,900.9 L1705.3,900.3 L1706.9,899.7 L1708.4,899.1 L1709.8,898.5 L1711.2,897.9 L1712.5,897.5 L1714.2,897 L1715.5,896.8 L1716.7,896.6 L1718.1,896.4 L1720,896 L1721.2,895.7 L1722.5,895.3 L1723.9,894.9 L1725.3,894.5 L1726.9,894.1 L1728.5,893.6 L1730.1,893.2 L1731.7,892.7 L1733.4,892.4 L1735,892 L1736.5,891.7 L1738,891.4 L1739.6,891.1 L1741.2,890.8 L1742.8,890.5 L1744.4,890.3 L1746,890 L1747.7,889.8 L1749.3,889.7 L1750.9,889.6 L1752.5,889.5 L1754.1,889.5 L1755.6,889.5 L1757.2,889.5 L1758.8,889.6 L1760.3,889.7 L1761.9,889.8 L1763.5,890 L1765,890.2 L1766.7,890.5 L1768.3,890.9 L1770,891.2 L1771.4,891.6 L1772.7,892 L1774.1,892.4 L1775.5,892.8 L1777,893.3 L1778.4,893.8 L1779.8,894.3 L1781.3,894.9 L1782.8,895.5 L1784.2,896.1 L1785.7,896.7 L1787.1,897.4 L1788.6,898 L1790,898.8 L1791.3,899.4 L1792.7,900.1 L1794,900.9 L1795.3,901.6 L1796.7,902.4 L1798,903.1 L1799.3,904 L1800.7,904.8 L1802,905.7 L1803.3,906.5 L1804.7,907.4 L1806,908.4 L1807.3,909.2 L1808.7,910.1 L1810,911.4 L1811.2,912 L1812.4,912.9 L1813.5,914.3 L1814.7,914.9 L1815.9,916.1 L1817.1,916.9 L1818.2,918 L1819.4,918.7 L1820.6,920.1 L1821.8,921.3 L1822.9,922.1 L1824.1,923.4 L1825.3,924.4 L1826.5,924.9 L1827.6,926.8 L1828.8,927.7 L1830,928.5 L1831.1,929.2 L1832.1,931.3 L1833.2,931.8 L1834.2,933.3 L1835.3,934.6 L1836.3,935.5 L1837.4,936.9 L1838.4,937.2 L1839.5,939 L1840.5,939.5 L1841.6,941.5 L1842.6,942.6 L1843.7,942.4 L1844.7,943.6 L1845.8,944.9 L1846.8,947.4 L1847.9,947.6 L1848.9,949.1 L1850,949.6 L1851,951.1 L1852,952 L1853,953 L1854,954.7 L1855,955.8 L1856,957.7 L1857,958.4 L1858,960.1 L1859,961.2 L1860,962.7 L1861,963.1 L1862,963 L1863,965.8 L1864,967.2 L1865,968.2 L1866,968.5 L1867,969.9 L1868,969.8 L1869,972.3 L1870,972.7 L1871.2,973.2 L1872.4,973.8 L1873.5,976.8 L1874.7,978.2 L1875.9,977.2 L1877.1,980 L1878.2,980.1 L1879.4,980.5 L1880.6,981.9 L1881.8,984 L1882.9,985.3 L1884.1,984.3 L1885.3,986.6 L1886.5,986.2 L1887.6,988.7 L1888.8,988.7 L1890,990.9 L1891.3,992.1 L1892.6,992 L1893.9,994.1 L1895.2,993.3 L1896.5,993.7 L1897.8,995.8 L1899,995.3 L1900.3,996.5 L1901.6,997.8 L1903,999.1 L1904.3,998.7 L1905.7,999.2 L1907.1,1001.9 L1908.5,1001.3 L1910,1003.6 L1911.3,1004.1 L1912.7,1003.4 L1914.1,1004.2 L1915.5,1004.9 L1917,1005.8 L1918.5,1006.2 L1919.9,1006.7 L1921.4,1007.4 L1922.9,1008.7 L1924.5,1008.1 L1926,1008.4 L1927.5,1009.6 L1929,1008.9 L1930.5,1009.5 L1932,1011.6 L1933.5,1010.9 L1935,1011.4 L1936.5,1010.5 L1938,1011.9 L1939.5,1012.7 L1940.9,1011.7 L1942.4,1013.5 L1943.8,1013.8 L1945.2,1012.8 L1946.7,1014.5 L1948.2,1014.4 L1949.7,1015.2 L1951.2,1014.7 L1952.8,1015.8 L1954.5,1016.1 L1956.3,1014.6 L1958.1,1015 L1960,1016.7 L1961.3,1017.5 L1962.7,1015.9 L1964.2,1016.6 L1965.8,1017 L1967.4,1016.5 L1969.1,1016.7 L1970.8,1016.7 L1972.5,1016.9 L1974.3,1017.6 L1976.1,1017 L1977.9,1017.3 L1979.7,1018.3 L1981.4,1016.6 L1983.2,1018 L1984.9,1018.5 L1986.6,1017.5 L1988.2,1017.4 L1989.8,1018.8 L1991.2,1017.5 L1992.6,1017.5 L1993.9,1018.1 L1995.1,1018.8 L1996.2,1017.4 L1997.2,1018 L1998,1018.1" fill="none" stroke="#8a3fd4" stroke-width="3" stroke-linejoin="round" stroke-linecap="round"/>
<path d="M1457.5,667.5 C1459,673.8 1463.3,691.7 1466.2,705 C1469.2,718.3 1472.1,735.8 1475,747.5 C1477.9,759.2 1480.8,767.9 1483.8,775 C1486.7,782.1 1489.4,785.6 1492.5,790 C1495.6,794.4 1499,797.7 1502.5,801.2 C1506,804.8 1510.4,808.5 1513.8,811.2 C1517.1,814 1519.2,814.5 1522.5,817.5 C1525.8,820.5 1529.2,825.8 1533.8,829.5 C1538.3,833.2 1544.8,836.2 1550,840 C1555.2,843.8 1560,848.3 1565,852.5 C1570,856.7 1575.8,861.8 1580,865 C1584.2,868.2 1586.2,869.1 1590,872 C1593.8,874.9 1598.8,879.3 1602.5,882.5 C1606.2,885.7 1607.9,887.9 1612.5,891.2 C1617.1,894.6 1624.6,899.2 1630,902.5 C1635.4,905.8 1640,908.6 1645,911.2 C1650,913.9 1654.6,916.2 1660,918.2 C1665.4,920.3 1671.2,922.2 1677.5,923.8 C1683.8,925.3 1690.4,926.2 1697.5,927.5 C1704.6,928.8 1712.1,929.6 1720,931.2 C1727.9,932.9 1736.7,934 1745,937.5 C1753.3,941 1761.7,946.2 1770,952.5 C1778.3,958.8 1786.7,967.1 1795,975 C1803.3,982.9 1811.7,991.2 1820,1000 C1828.3,1008.8 1836.7,1018.5 1845,1027.5 C1853.3,1036.5 1861.7,1046.2 1870,1053.8 C1878.3,1061.2 1886.7,1067.3 1895,1072.5 C1903.3,1077.7 1911.7,1081.7 1920,1085 C1928.3,1088.3 1936.7,1090.5 1945,1092.5 C1953.3,1094.5 1961.2,1095.6 1970,1097 C1978.8,1098.4 1993.3,1100.3 1998,1101" fill="none" stroke="#d42030" stroke-width="3" stroke-linejoin="round" stroke-linecap="round"/>
</g>
<line x1="1695" y1="757.5" x2="1686.6" y2="769.6" stroke="#4470d6" stroke-width="3"/><path d="M1681.5,777 L1682.9,767 L1690.3,772.2 Z" fill="#4470d6"/>
<line x1="1787" y1="870.5" x2="1779.2" y2="881.4" stroke="#8a3fd4" stroke-width="3"/><path d="M1774,888.8 L1775.6,878.8 L1782.9,884 Z" fill="#8a3fd4"/>
<line x1="1770" y1="920.5" x2="1761.3" y2="932.3" stroke="#d42030" stroke-width="3"/><path d="M1756,939.5 L1757.7,929.6 L1765,934.9 Z" fill="#d42030"/>
<rect x="59" y="1245" width="537" height="432" fill="none" stroke="#000" stroke-width="3"/>
<line x1="120.9" y1="1677" x2="120.9" y2="1686" stroke="#000" stroke-width="3"/>
<text x="121.7" y="1713.3" font-size="28" text-anchor="middle" font-weight="bold" fill="#000">10</text>
<line x1="224" y1="1677" x2="224" y2="1686" stroke="#000" stroke-width="3"/>
<text x="224.8" y="1713.3" font-size="28" text-anchor="middle" font-weight="bold" fill="#000">15</text>
<line x1="327.1" y1="1677" x2="327.1" y2="1686" stroke="#000" stroke-width="3"/>
<text x="327.9" y="1713.3" font-size="28" text-anchor="middle" font-weight="bold" fill="#000">20</text>
<line x1="430.3" y1="1677" x2="430.3" y2="1686" stroke="#000" stroke-width="3"/>
<text x="431.1" y="1713.3" font-size="28" text-anchor="middle" font-weight="bold" fill="#000">25</text>
<line x1="533.4" y1="1677" x2="533.4" y2="1686" stroke="#000" stroke-width="3"/>
<text x="534.2" y="1713.3" font-size="28" text-anchor="middle" font-weight="bold" fill="#000">30</text>
<text x="287" y="1754" font-size="33" text-anchor="start" font-weight="bold" fill="#000">2θ (°)</text>
<text x="38.5" y="1461" font-size="33" text-anchor="middle" font-weight="bold" fill="#000" transform="rotate(-90 38.5 1461)">Intensity (arb. units)</text>
<path d="M59.9,1628.1 C63.1,1628 72.1,1627.9 79.4,1627.4 C86.7,1626.9 96.6,1625.8 103.9,1624.9 C111.2,1624 117.3,1622.7 123.4,1622 C129.5,1621.3 134.8,1621 140.5,1620.8 C146.2,1620.6 151.5,1620.8 157.6,1620.8 C163.7,1620.8 171.5,1620.8 177.2,1620.5 C182.9,1620.2 186.1,1619.6 191.8,1618.8 C197.5,1618 205.7,1617 211.4,1615.9 C217.1,1614.8 220.3,1613.4 226,1612.2 C231.7,1611 239.9,1609.7 245.6,1608.5 C251.3,1607.3 255.3,1606.5 260.2,1604.9 C265.1,1603.3 270.8,1601 274.9,1598.8 C279,1596.6 281.8,1594.7 284.7,1591.9 C287.6,1589.1 289.6,1585.9 292,1582.2 C294.4,1578.5 297.3,1573.1 299.3,1569.9 C301.3,1566.7 302.6,1564.3 304.2,1563.1 C305.8,1561.9 307.5,1562.2 309.1,1562.6 C310.7,1563 312.4,1564.5 314,1565.5 C315.6,1566.5 316.9,1567.8 318.9,1568.7 C320.9,1569.6 323.5,1570.4 326.2,1570.7 C328.9,1571 330.9,1571.1 334.8,1570.5 C338.7,1569.9 344.1,1569 349.4,1567.3 C354.7,1565.5 361.2,1562.3 366.5,1560 C371.8,1557.7 376.3,1555.2 381.2,1553.2 C386.1,1551.2 390.9,1549.7 395.8,1548.3 C400.7,1546.9 405.2,1545.7 410.5,1544.6 C415.8,1543.5 421.5,1542.4 427.6,1541.7 C433.7,1541 441.4,1540.5 447.1,1540.5 C452.8,1540.5 456.9,1540.9 461.8,1541.7 C466.7,1542.5 470.7,1543.6 476.4,1545.4 C482.1,1547.2 489.4,1550.2 495.9,1552.7 C502.4,1555.2 509.4,1558.3 515.5,1560.5 C521.6,1562.7 526.5,1564.1 532.6,1566.1 C538.7,1568 545.2,1570.2 552.1,1572.2 C559,1574.2 566.8,1576.5 574.1,1578.3 C581.4,1580.1 592.4,1582.4 596,1583.2" fill="none" stroke="#1f8a22" stroke-width="3" stroke-linejoin="round" stroke-linecap="round"/>
<path d="M59.9,1540.6 C63.1,1540.3 72.1,1539.7 79.4,1538.9 C86.7,1538.1 96.6,1536.8 103.9,1535.7 C111.2,1534.6 117.3,1533.4 123.4,1532.1 C129.5,1530.8 135.6,1528.8 140.5,1527.9 C145.4,1527 146.6,1526.6 152.7,1526.7 C158.8,1526.8 170.7,1528.3 177.2,1528.4 C183.7,1528.5 186.1,1528.2 191.8,1527.2 C197.5,1526.2 204.9,1524.2 211.4,1522.3 C217.9,1520.4 224.4,1517.7 230.9,1515.7 C237.4,1513.7 244.8,1511.7 250.5,1510.1 C256.2,1508.5 260.6,1507.5 265.1,1505.9 C269.6,1504.3 273.6,1502.7 277.3,1500.3 C281,1497.9 284.2,1495.6 287.1,1491.7 C290,1487.8 292.4,1482.4 294.4,1477.1 C296.4,1471.8 297.7,1465.7 299.3,1460 C300.9,1454.3 302.6,1447.1 304.2,1442.9 C305.8,1438.8 307.5,1436.3 309.1,1435.1 C310.7,1433.9 312.4,1433.9 314,1435.6 C315.6,1437.3 317.3,1441.4 318.9,1445.3 C320.5,1449.2 322,1455.3 323.8,1458.8 C325.6,1462.2 327.2,1463.2 329.9,1466 C332.5,1468.8 336.4,1473.2 339.7,1475.8 C342.9,1478.4 345.8,1480 349.4,1481.4 C353,1482.8 357.5,1484 361.6,1484.3 C365.7,1484.6 369.7,1483.5 373.8,1483.1 C377.9,1482.7 382,1481.4 386.1,1481.9 C390.2,1482.4 394.2,1484.6 398.3,1486.3 C402.4,1488 406.4,1490.4 410.5,1492.1 C414.6,1493.8 417.4,1495 422.7,1496.5 C428,1498 435.7,1499.7 442.2,1501 C448.7,1502.3 454.9,1503.6 461.8,1504.6 C468.7,1505.6 477.2,1505.8 483.7,1506.8 C490.2,1507.8 494.7,1509.6 500.8,1510.7 C506.9,1511.8 514.7,1512.8 520.4,1513.6 C526.1,1514.4 528.9,1514.9 535,1515.3 C541.1,1515.7 549.3,1515.8 557,1516.1 C564.7,1516.4 574.9,1516.8 581.4,1517.3 C587.9,1517.8 593.6,1518.9 596,1519.2" fill="none" stroke="#4470d6" stroke-width="3" stroke-linejoin="round" stroke-linecap="round"/>
<path d="M59.9,1440.5 C63.1,1440.2 72.1,1439.5 79.4,1438.8 C86.7,1438.1 96.6,1437 103.9,1436.1 C111.2,1435.2 117.3,1434.3 123.4,1433.6 C129.5,1432.9 135.6,1432.2 140.5,1431.9 C145.4,1431.6 146.6,1431.7 152.7,1431.9 C158.8,1432.1 169.9,1433.1 177.2,1433.1 C184.5,1433.1 191,1432.6 196.7,1431.9 C202.4,1431.2 207.3,1429.5 211.4,1428.7 C215.5,1427.9 216.2,1427.9 221.1,1427 C226,1426.1 234.2,1424.6 240.7,1423.4 C247.2,1422.2 254.5,1421.1 260.2,1419.9 C265.9,1418.7 271.2,1417.5 274.9,1416 C278.6,1414.5 279.8,1413.3 282.2,1411.1 C284.6,1408.9 287.1,1405.8 289.5,1402.6 C291.9,1399.3 294.8,1395.3 296.9,1391.6 C298.9,1387.9 299.8,1384.7 301.8,1380.6 C303.8,1376.5 307.1,1369.7 309.1,1367.2 C311.1,1364.8 312.4,1365.3 314,1365.9 C315.6,1366.5 317.3,1368.2 318.9,1370.8 C320.5,1373.4 322.2,1378.8 323.8,1381.8 C325.4,1384.8 327.2,1387.7 328.6,1389.1 C330,1390.5 330.5,1390.5 332.3,1390.3 C334.1,1390.1 337.7,1387.9 339.7,1387.9 C341.7,1387.9 342.9,1388.9 344.5,1390.3 C346.1,1391.7 347.6,1394.2 349.4,1396.4 C351.2,1398.6 352.4,1402.3 355.5,1403.2 C358.6,1404.1 362.6,1401.9 367.7,1401.8 C372.8,1401.7 381,1401.8 386.1,1402.5 C391.2,1403.2 394.2,1405 398.3,1406.2 C402.4,1407.4 405.6,1409 410.5,1409.8 C415.4,1410.6 423.7,1411.5 427.6,1411.1 C431.5,1410.7 431.9,1408.6 433.7,1407.4 C435.5,1406.2 437.2,1403.7 438.6,1403.7 C440,1403.7 440.8,1405.6 442.2,1407.4 C443.6,1409.2 445.1,1413.6 447.1,1414.7 C449.1,1415.8 451.9,1414.5 454.4,1414.2 C456.8,1413.9 458.9,1412.7 461.8,1413 C464.7,1413.3 468.2,1415.6 471.5,1415.9 C474.8,1416.2 477.2,1414.3 481.3,1414.7 C485.4,1415.1 491,1417.6 495.9,1418.4 C500.8,1419.2 504.9,1419.3 510.6,1419.8 C516.3,1420.3 525.2,1421.6 530.1,1421.3 C535,1421 536.6,1418.1 539.9,1417.9 C543.2,1417.7 546.5,1419.4 549.7,1420.3 C553,1421.2 555.8,1423.3 559.4,1423.3 C563,1423.3 567.9,1420.9 571.6,1420.3 C575.3,1419.7 578.5,1419.4 581.4,1419.8 C584.2,1420.2 586.3,1422.7 588.7,1422.8 C591.1,1422.9 594.8,1420.7 596,1420.3" fill="none" stroke="#8a3fd4" stroke-width="3" stroke-linejoin="round" stroke-linecap="round"/>
<path d="M59.9,1376.9 C63.1,1376.5 72.1,1375.5 79.4,1374.5 C86.7,1373.5 96.6,1372 103.9,1370.8 C111.2,1369.6 117.3,1368.6 123.4,1367.6 C129.5,1366.6 135.6,1365.3 140.5,1364.7 C145.4,1364.1 147.4,1364.1 152.7,1364.2 C158,1364.3 166.6,1365.2 172.3,1365.2 C178,1365.2 182.8,1364.8 186.9,1364.2 C191,1363.6 193.8,1363 196.7,1361.8 C199.5,1360.6 202,1358.5 204,1356.9 C206,1355.4 207.7,1353 208.9,1352.5 C210.1,1352 210.6,1354.2 211.4,1354.2 C212.2,1354.2 212.8,1352.5 213.8,1352.5 C214.8,1352.5 216.3,1353.8 217.5,1354.5 C218.7,1355.2 219.7,1356.6 221.1,1356.7 C222.5,1356.8 222.7,1355.9 226,1354.9 C229.3,1353.9 235,1352.1 240.7,1350.5 C246.4,1348.9 254.5,1347.3 260.2,1345.2 C265.9,1343.1 271.2,1340.5 274.9,1337.8 C278.6,1335.1 279.8,1332.5 282.2,1329.3 C284.6,1326 287.3,1322.6 289.5,1318.3 C291.7,1314 293.6,1309.3 295.6,1303.6 C297.7,1297.9 300,1289.5 301.8,1284.1 C303.6,1278.7 305.2,1274.1 306.6,1271.4 C308,1268.8 309.1,1268.3 310.3,1268.2 C311.5,1268.1 312.6,1268.5 314,1270.7 C315.4,1272.9 317.3,1277.7 318.9,1281.6 C320.5,1285.5 322.4,1291.4 323.8,1293.9 C325.2,1296.4 326.2,1296.7 327.4,1296.8 C328.6,1296.9 329.8,1295 331.1,1294.4 C332.4,1293.8 334,1293.9 335,1293.4 C336,1292.9 336.4,1291.1 337.2,1291.4 C338,1291.7 338.7,1293.7 339.7,1295.1 C340.7,1296.5 342.1,1297.3 343.3,1299.9 C344.5,1302.5 345.8,1307.6 347,1310.9 C348.2,1314.2 348.6,1318.2 350.6,1319.5 C352.6,1320.8 356.1,1318.5 359.2,1318.7 C362.3,1318.9 366.6,1321.2 369,1320.7 C371.4,1320.2 371.8,1317.9 373.8,1315.8 C375.8,1313.7 378.8,1308.4 381.2,1308 C383.6,1307.6 386.1,1310.5 388.5,1313.4 C390.9,1316.3 393.4,1322.4 395.8,1325.6 C398.2,1328.8 400.7,1330.7 403.1,1332.4 C405.6,1334.1 407.6,1335.3 410.5,1335.8 C413.4,1336.3 417.8,1337.1 420.2,1335.4 C422.6,1333.7 423.7,1328.2 425.1,1325.6 C426.5,1322.9 427.8,1321.3 428.8,1319.5 C429.8,1317.7 430.6,1315.6 431.2,1314.6 C431.8,1313.6 432,1313 432.4,1313.4 C432.8,1313.8 432.9,1314.4 433.7,1317 C434.5,1319.6 435.7,1325.3 437.3,1329.2 C438.9,1333.1 441.4,1338.5 443.4,1340.2 C445.4,1342 447.2,1340 449.5,1339.7 C451.8,1339.4 454.4,1338 456.9,1338.5 C459.3,1339 461.8,1342 464.2,1342.7 C466.6,1343.4 469.1,1342.8 471.5,1342.7 C473.9,1342.6 475.9,1341.9 478.8,1342.2 C481.7,1342.5 484.9,1343.7 488.6,1344.6 C492.3,1345.5 496.7,1346.3 500.8,1347.6 C504.9,1348.9 509.7,1351.4 513,1352.4 C516.3,1353.4 517.9,1354.2 520.4,1353.7 C522.9,1353.2 525.3,1350.8 527.7,1349.5 C530.1,1348.2 532.6,1345.5 535,1345.6 C537.4,1345.7 539.8,1348.9 542.3,1350 C544.8,1351.1 547.2,1351.1 549.7,1352 C552.2,1352.9 554,1355.8 557,1355.4 C560,1355 565.1,1350 568,1349.5 C570.9,1349 571.5,1351.3 574.1,1352.4 C576.8,1353.5 581,1355.6 583.9,1356.1 C586.8,1356.6 589.2,1355.7 591.2,1355.4 C593.2,1355.1 595.2,1354.6 596,1354.4" fill="none" stroke="#d42030" stroke-width="3" stroke-linejoin="round" stroke-linecap="round"/>
<line x1="191.9" y1="1632.1" x2="244.60000000000002" y2="1632.1" stroke="#1f8a22" stroke-width="3.2" stroke-linecap="round"/>
<text x="250.5" y="1640.9" font-size="25.5" text-anchor="start" font-weight="bold" fill="#000">IPVA</text>
<line x1="400.7" y1="1632.1" x2="453.4" y2="1632.1" stroke="#4470d6" stroke-width="3.2" stroke-linecap="round"/>
<text x="459.5" y="1640.9" font-size="25.5" text-anchor="start" font-weight="bold" fill="#000">SPVA</text>
<line x1="191.9" y1="1663.8" x2="244.60000000000002" y2="1663.8" stroke="#8a3fd4" stroke-width="3.2" stroke-linecap="round"/>
<text x="250.5" y="1672.6" font-size="25.5" text-anchor="start" font-weight="bold" fill="#000">AA-SPVA</text>
<line x1="400.7" y1="1663.8" x2="453.4" y2="1663.8" stroke="#d42030" stroke-width="3.2" stroke-linecap="round"/>
<text x="459.5" y="1672.6" font-size="25.5" text-anchor="start" font-weight="bold" fill="#000">HAA-SPVA</text>
<linearGradient id="gGray" x1="0" x2="1" y1="0" y2="0"><stop offset="0" stop-color="#c2c2c2"/><stop offset="0.35" stop-color="#a9a9a9"/><stop offset="1" stop-color="#4d4d4d"/></linearGradient>
<linearGradient id="gBlue" x1="0" x2="1" y1="0" y2="0"><stop offset="0" stop-color="#9ca8e4"/><stop offset="0.3" stop-color="#919ed8"/><stop offset="0.65" stop-color="#545d98"/><stop offset="1" stop-color="#141a48"/></linearGradient>
<rect x="749.2" y="1306" width="44.6" height="369.8" fill="url(#gGray)"/>
<rect x="816.9" y="1460" width="43.9" height="215.8" fill="url(#gGray)"/>
<rect x="883.9" y="1435.1" width="45" height="240.7" fill="url(#gGray)"/>
<rect x="974.2" y="1434.2" width="44.7" height="152.3" fill="url(#gBlue)"/>
<rect x="974.2" y="1594" width="44.7" height="81.8" fill="url(#gBlue)"/>
<rect x="1041.8" y="1342.2" width="45.1" height="244.3" fill="url(#gBlue)"/>
<rect x="1041.8" y="1594" width="45.1" height="81.8" fill="url(#gBlue)"/>
<rect x="1110.1" y="1351.9" width="43.9" height="234.6" fill="url(#gBlue)"/>
<rect x="1110.1" y="1594" width="43.9" height="81.8" fill="url(#gBlue)"/>
<rect x="1177.5" y="1291.1" width="44.3" height="295.4" fill="url(#gBlue)"/>
<rect x="1177.5" y="1594" width="44.3" height="81.8" fill="url(#gBlue)"/>
<line x1="954.4" y1="1236.9" x2="954.4" y2="1675" stroke="#000" stroke-width="2.8" stroke-dasharray="9.4 5"/>
<line x1="716.8" y1="1241.2" x2="1256.3" y2="1241.2" stroke="#000" stroke-width="3"/>
<line x1="716.8" y1="1239.7" x2="716.8" y2="1677.3" stroke="#000" stroke-width="3"/>
<line x1="708" y1="1675.8" x2="1257.8" y2="1675.8" stroke="#000" stroke-width="3"/>
<line x1="1255.8" y1="1239.7" x2="1255.8" y2="1586.5" stroke="#141838" stroke-width="3"/>
<line x1="1255.8" y1="1595" x2="1255.8" y2="1677.3" stroke="#141838" stroke-width="3"/>
<path d="M1247.6,1590.8 L1263.6,1583 M1247.6,1598.2 L1263.6,1590.6" stroke="#141838" stroke-width="2.4" fill="none"/>
<line x1="708" y1="1675.8" x2="716.8" y2="1675.8" stroke="#000" stroke-width="3"/>
<text x="703.8" y="1684.3" font-size="28" text-anchor="end" font-weight="bold" fill="#000">0</text>
<line x1="708" y1="1599" x2="716.8" y2="1599" stroke="#000" stroke-width="3"/>
<text x="703.8" y="1607.5" font-size="28" text-anchor="end" font-weight="bold" fill="#000">3</text>
<line x1="708" y1="1522.2" x2="716.8" y2="1522.2" stroke="#000" stroke-width="3"/>
<text x="703.8" y="1530.7" font-size="28" text-anchor="end" font-weight="bold" fill="#000">6</text>
<line x1="708" y1="1445.4" x2="716.8" y2="1445.4" stroke="#000" stroke-width="3"/>
<text x="703.8" y="1453.9" font-size="28" text-anchor="end" font-weight="bold" fill="#000">9</text>
<line x1="708" y1="1368.6" x2="716.8" y2="1368.6" stroke="#000" stroke-width="3"/>
<text x="703.8" y="1377.1" font-size="28" text-anchor="end" font-weight="bold" fill="#000">12</text>
<line x1="708" y1="1291.8" x2="716.8" y2="1291.8" stroke="#000" stroke-width="3"/>
<text x="703.8" y="1300.3" font-size="28" text-anchor="end" font-weight="bold" fill="#000">15</text>
<line x1="1256.3" y1="1271.2" x2="1265.5" y2="1271.2" stroke="#141838" stroke-width="3"/>
<text x="1269" y="1279.5" font-size="26" text-anchor="start" font-weight="bold" fill="#4b0c98">7.5</text>
<line x1="1256.3" y1="1322.1" x2="1265.5" y2="1322.1" stroke="#141838" stroke-width="3"/>
<text x="1269" y="1330.4" font-size="26" text-anchor="start" font-weight="bold" fill="#4b0c98">7.0</text>
<line x1="1256.3" y1="1373" x2="1265.5" y2="1373" stroke="#141838" stroke-width="3"/>
<text x="1269" y="1381.3" font-size="26" text-anchor="start" font-weight="bold" fill="#4b0c98">6.5</text>
<line x1="1256.3" y1="1423.9" x2="1265.5" y2="1423.9" stroke="#141838" stroke-width="3"/>
<text x="1269" y="1432.2" font-size="26" text-anchor="start" font-weight="bold" fill="#4b0c98">6.0</text>
<line x1="1256.3" y1="1474.8" x2="1265.5" y2="1474.8" stroke="#141838" stroke-width="3"/>
<text x="1269" y="1483.1" font-size="26" text-anchor="start" font-weight="bold" fill="#4b0c98">5.5</text>
<line x1="1256.3" y1="1525.7" x2="1265.5" y2="1525.7" stroke="#141838" stroke-width="3"/>
<text x="1269" y="1534" font-size="26" text-anchor="start" font-weight="bold" fill="#4b0c98">5.0</text>
<line x1="1256.3" y1="1576.6" x2="1265.5" y2="1576.6" stroke="#141838" stroke-width="3"/>
<text x="1269" y="1584.9" font-size="26" text-anchor="start" font-weight="bold" fill="#4b0c98">4.5</text>
<line x1="1256.3" y1="1624.8" x2="1265.5" y2="1624.8" stroke="#141838" stroke-width="3"/>
<text x="1269" y="1633.1" font-size="26" text-anchor="start" font-weight="bold" fill="#4b0c98">0.5</text>
<line x1="1256.3" y1="1674.4" x2="1265.5" y2="1674.4" stroke="#141838" stroke-width="3"/>
<text x="1269" y="1682.7" font-size="26" text-anchor="start" font-weight="bold" fill="#4b0c98">0.0</text>
<text x="667.5" y="1458" font-size="33" text-anchor="middle" font-weight="bold" fill="#000" transform="rotate(-90 667.5 1458)"><tspan font-style="italic">L</tspan> (nm)</text>
<text x="1341" y="1457.6" font-size="33" text-anchor="middle" font-weight="bold" fill="#4b0c98" transform="rotate(-90 1341 1457.6)"><tspan font-style="italic">D</tspan> (nm)</text>
<text x="784.7" y="1688.7" font-size="26" text-anchor="end" font-weight="bold" fill="#000" transform="rotate(-60 784.7 1688.7)">SPVA</text>
<text x="857.2" y="1688" font-size="26" text-anchor="end" font-weight="bold" fill="#000" transform="rotate(-60 857.2 1688)">AA-SPVA</text>
<text x="931.2" y="1688.6" font-size="26" text-anchor="end" font-weight="bold" fill="#000" transform="rotate(-60 931.2 1688.6)">HAA-SPVA</text>
<text x="1012.5" y="1690.7" font-size="26" text-anchor="end" font-weight="bold" fill="#000" transform="rotate(-60 1012.5 1690.7)">IPVA</text>
<text x="1076" y="1690" font-size="26" text-anchor="end" font-weight="bold" fill="#000" transform="rotate(-60 1076 1690)">SPVA</text>
<text x="1149" y="1689" font-size="26" text-anchor="end" font-weight="bold" fill="#000" transform="rotate(-60 1149 1689)">AA-SPVA</text>
<text x="1222.3" y="1690.7" font-size="26" text-anchor="end" font-weight="bold" fill="#000" transform="rotate(-60 1222.3 1690.7)">HAA-SPVA</text>
<rect x="1456.3" y="1245" width="541.7" height="440.8" fill="none" stroke="#000" stroke-width="3"/>
<line x1="1576.1" y1="1685.8" x2="1576.1" y2="1695" stroke="#000" stroke-width="3"/>
<text x="1576.1" y="1722.1" font-size="28" text-anchor="middle" font-weight="bold" fill="#000">1150</text>
<line x1="1726.5" y1="1685.8" x2="1726.5" y2="1695" stroke="#000" stroke-width="3"/>
<text x="1726.5" y="1722.1" font-size="28" text-anchor="middle" font-weight="bold" fill="#000">1100</text>
<line x1="1876.9" y1="1685.8" x2="1876.9" y2="1695" stroke="#000" stroke-width="3"/>
<text x="1876.9" y="1722.1" font-size="28" text-anchor="middle" font-weight="bold" fill="#000">1050</text>
<line x1="1447.5" y1="1629.6" x2="1456.3" y2="1629.6" stroke="#000" stroke-width="3"/>
<text x="1443" y="1638.1" font-size="28" text-anchor="end" font-weight="bold" fill="#000">20</text>
<line x1="1447.5" y1="1527" x2="1456.3" y2="1527" stroke="#000" stroke-width="3"/>
<text x="1443" y="1535.5" font-size="28" text-anchor="end" font-weight="bold" fill="#000">40</text>
<line x1="1447.5" y1="1424.4" x2="1456.3" y2="1424.4" stroke="#000" stroke-width="3"/>
<text x="1443" y="1432.9" font-size="28" text-anchor="end" font-weight="bold" fill="#000">60</text>
<line x1="1447.5" y1="1321.8" x2="1456.3" y2="1321.8" stroke="#000" stroke-width="3"/>
<text x="1443" y="1330.3" font-size="28" text-anchor="end" font-weight="bold" fill="#000">80</text>
<line x1="1606.5" y1="1241.5" x2="1606.5" y2="1684" stroke="#606060" stroke-width="3" stroke-dasharray="17.2 15.8"/>
<text x="1614.5" y="1283.6" font-size="25.5" text-anchor="start" font-weight="bold" fill="#606060">1140 cm<tspan font-size="15.5" dy="-10">-1</tspan></text>
<text x="1574" y="1761" font-size="33" text-anchor="start" font-weight="bold" fill="#000">Wavenumber (cm<tspan font-size="21" dy="-13">−1</tspan><tspan dy="13">)</tspan></text>
<text x="1399" y="1463.5" font-size="33.3" text-anchor="middle" font-weight="bold" fill="#000" transform="rotate(-90 1399 1463.5)">Transmittance (%)</text>
<path d="M1455.1,1297.5 C1458.5,1297.5 1467.8,1297.8 1475.5,1297.5 C1483.2,1297.2 1492.6,1296.5 1501.1,1295.7 C1509.6,1294.9 1519.4,1293.5 1526.6,1292.9 C1533.8,1292.3 1539.8,1291.9 1544.5,1291.9 C1549.2,1291.9 1551,1292 1554.8,1293.1 C1558.6,1294.2 1562.8,1296.2 1567.5,1298.3 C1572.2,1300.4 1577.8,1303.5 1582.9,1305.9 C1588,1308.3 1594.4,1311.1 1598.2,1312.8 C1602,1314.5 1601.7,1314.4 1605.9,1315.9 C1610.2,1317.4 1615.6,1319.3 1623.7,1321.8 C1631.8,1324.3 1645.9,1328.4 1654.4,1330.7 C1662.9,1333 1669.3,1334.2 1674.8,1335.8 C1680.3,1337.4 1682.5,1338.3 1687.6,1340.2 C1692.7,1342.1 1700.1,1345.5 1705.5,1347.3 C1710.9,1349.1 1715.5,1349.7 1720,1351.1 C1724.5,1352.5 1729,1354.6 1732.8,1355.5 C1736.6,1356.4 1739.2,1356.8 1743,1356.7 C1746.8,1356.6 1751.1,1356.1 1755.8,1354.9 C1760.5,1353.8 1766,1351.4 1771.1,1349.8 C1776.2,1348.2 1780.9,1346.5 1786.4,1345.2 C1791.9,1343.9 1798.3,1342.6 1804.3,1341.7 C1810.3,1340.8 1815,1340.4 1822.2,1339.6 C1829.4,1338.8 1839.2,1338 1847.7,1337.1 C1856.2,1336.2 1864.8,1335.1 1873.3,1334 C1881.8,1332.9 1890.3,1331.8 1898.8,1330.7 C1907.3,1329.6 1915.8,1328.5 1924.3,1327.6 C1932.8,1326.7 1941.4,1325.9 1949.9,1325.1 C1958.4,1324.2 1967.4,1323.1 1975.4,1322.5 C1983.4,1321.9 1994.2,1321.8 1997.9,1321.7" fill="none" stroke="#1f8a22" stroke-width="3" stroke-linejoin="round" stroke-linecap="round"/>
<path d="M1455.1,1318.7 C1458.5,1318.5 1467.8,1318 1475.5,1317.2 C1483.2,1316.4 1493.4,1315.2 1501.1,1314.1 C1508.8,1312.9 1515.1,1311.6 1521.5,1310.3 C1527.9,1309 1535.1,1306.7 1539.4,1306.4 C1543.7,1306.1 1544.1,1306.8 1547.1,1308.5 C1550.1,1310.2 1553.9,1312.3 1557.3,1316.6 C1560.7,1320.9 1564.1,1328.5 1567.5,1334.5 C1570.9,1340.5 1574.3,1346.7 1577.7,1352.4 C1581.1,1358.2 1584.6,1364.3 1588,1369 C1591.4,1373.7 1595.2,1377.9 1598.2,1380.5 C1601.2,1383.1 1602.9,1384 1605.9,1384.4 C1608.9,1384.8 1611.8,1383.7 1616.1,1383.1 C1620.3,1382.5 1626.7,1380.8 1631.4,1381 C1636.1,1381.2 1639.5,1383 1644.2,1384.4 C1648.9,1385.8 1653.5,1387.4 1659.5,1389.5 C1665.5,1391.6 1674.5,1393.9 1680,1397.1 C1685.5,1400.3 1688.5,1404.1 1692.7,1408.6 C1697,1413.1 1701,1418.5 1705.5,1424 C1710,1429.5 1715.5,1436.5 1720,1441.8 C1724.5,1447.1 1728.5,1452.4 1732.8,1455.8 C1737,1459.2 1741.7,1461 1745.5,1462.2 C1749.3,1463.4 1751.5,1463.6 1755.8,1462.7 C1760.1,1461.8 1765.6,1459.9 1771.1,1457.1 C1776.6,1454.2 1783,1449 1789,1445.6 C1795,1442.2 1800.4,1439.5 1806.8,1436.7 C1813.2,1433.9 1820.5,1431.2 1827.3,1428.5 C1834.1,1425.8 1840,1423.5 1847.7,1420.8 C1855.4,1418.1 1864.8,1415.1 1873.3,1412.4 C1881.8,1409.7 1890.3,1407.5 1898.8,1404.8 C1907.3,1402.1 1915.8,1399.2 1924.3,1396.3 C1932.8,1393.4 1941.4,1390.7 1949.9,1387.6 C1958.4,1384.5 1967.4,1380.7 1975.4,1377.9 C1983.4,1375.1 1994.2,1372 1997.9,1370.8" fill="none" stroke="#4470d6" stroke-width="3" stroke-linejoin="round" stroke-linecap="round"/>
<path d="M1455.1,1332 C1458.5,1331.8 1467.8,1331.2 1475.5,1330.7 C1483.2,1330.2 1493.4,1329.4 1501.1,1328.9 C1508.8,1328.4 1515.5,1328.1 1521.5,1327.6 C1527.5,1327.1 1533.1,1325.8 1536.9,1325.8 C1540.7,1325.8 1542,1325.7 1544.5,1327.4 C1547,1329.1 1549.6,1331.6 1552.2,1335.8 C1554.8,1340 1557.4,1345.8 1559.9,1352.4 C1562.5,1359 1565,1368.2 1567.5,1375.4 C1570,1382.7 1572.6,1389.1 1575.2,1395.9 C1577.8,1402.7 1579.9,1409.7 1582.9,1416.3 C1585.9,1422.9 1589.7,1431.2 1593.1,1435.5 C1596.5,1439.8 1599.9,1441.4 1603.3,1441.8 C1606.7,1442.2 1609.7,1440.1 1613.5,1438 C1617.3,1435.9 1622,1431.1 1626.3,1429.1 C1630.6,1427.1 1634.4,1425.8 1639.1,1426 C1643.8,1426.2 1648.9,1428.5 1654.4,1430.3 C1659.9,1432.1 1667.2,1433.9 1672.3,1436.7 C1677.4,1439.5 1681.3,1442.6 1685.1,1446.9 C1688.9,1451.2 1691.9,1456.3 1695.3,1462.3 C1698.7,1468.3 1701.4,1476.3 1705.5,1482.7 C1709.6,1489.1 1715.5,1493.7 1720,1500.5 C1724.5,1507.3 1728.5,1517.5 1732.8,1523.5 C1737,1529.5 1740.8,1533.3 1745.5,1536.3 C1750.2,1539.3 1755.8,1541.4 1760.9,1541.4 C1766,1541.4 1770.2,1539.7 1776.2,1536.3 C1782.2,1532.9 1789.8,1525.9 1796.6,1521 C1803.4,1516.1 1810.7,1510.3 1817.1,1506.9 C1823.5,1503.5 1829,1501.9 1834.9,1500.5 C1840.9,1499.1 1846.4,1499.3 1852.8,1498.7 C1859.2,1498.1 1865.6,1498.5 1873.3,1496.7 C1881,1494.9 1890.3,1491 1898.8,1487.8 C1907.3,1484.6 1915.8,1481.3 1924.3,1477.5 C1932.8,1473.7 1941.4,1470.3 1949.9,1464.8 C1958.4,1459.3 1967.4,1451.8 1975.4,1444.3 C1983.4,1436.8 1994.2,1424.1 1997.9,1420.1" fill="none" stroke="#8a3fd4" stroke-width="3" stroke-linejoin="round" stroke-linecap="round"/>
<path d="M1455.1,1536.4 C1457.2,1535.3 1463.2,1533.6 1467.9,1530 C1472.6,1526.4 1477.7,1520 1483.2,1514.7 C1488.7,1509.4 1495.1,1503.3 1501.1,1498 C1507.1,1492.7 1513.5,1488 1519,1482.7 C1524.5,1477.4 1530,1470.1 1534.3,1466.1 C1538.5,1462 1542,1460 1544.5,1458.4 C1547,1456.8 1547.5,1456.5 1549.6,1456.7 C1551.7,1456.9 1554.7,1457.5 1557.3,1459.7 C1559.9,1461.9 1562,1465.3 1565,1470 C1568,1474.7 1571.8,1482.1 1575.2,1487.8 C1578.6,1493.5 1581.6,1499.8 1585.4,1504.4 C1589.2,1509 1594.8,1513.3 1598.2,1515.4 C1601.6,1517.5 1602.5,1517.5 1605.9,1517.2 C1609.3,1517 1614.3,1514.9 1618.6,1513.9 C1622.8,1512.9 1627.1,1511.3 1631.4,1511.3 C1635.7,1511.3 1639.5,1512.8 1644.2,1513.9 C1648.9,1515 1654,1516.8 1659.5,1518 C1665,1519.2 1672.3,1519.2 1677.4,1521 C1682.5,1522.8 1685.5,1525.3 1690.2,1528.7 C1694.9,1532.1 1700.5,1537.9 1705.5,1541.5 C1710.5,1545.1 1715,1546.7 1720,1550.3 C1725,1553.9 1729.8,1559.7 1735.3,1563.1 C1740.8,1566.5 1747.2,1570.4 1753.2,1570.8 C1759.2,1571.2 1764.7,1569.5 1771.1,1565.7 C1777.5,1561.9 1784.7,1554.2 1791.5,1547.8 C1798.3,1541.4 1806,1532.3 1812,1527.4 C1818,1522.5 1822.6,1520.1 1827.3,1518.4 C1832,1516.7 1835.8,1516.4 1840,1517.2 C1844.2,1518 1848.1,1519.5 1852.8,1523.5 C1857.5,1527.5 1863,1536.7 1868.1,1541.4 C1873.2,1546.1 1878.4,1550.1 1883.5,1551.6 C1888.6,1553.1 1893.7,1553.3 1898.8,1550.3 C1903.9,1547.3 1908.6,1540.7 1914.1,1533.7 C1919.6,1526.7 1926.9,1515 1932,1508.2 C1937.1,1501.4 1940.1,1496.7 1944.8,1492.9 C1949.5,1489.1 1955.4,1487.6 1960.1,1485.2 C1964.8,1482.8 1968.7,1481.3 1972.9,1478.8 C1977.2,1476.2 1981.4,1473.3 1985.6,1469.9 C1989.8,1466.5 1995.9,1460.3 1997.9,1458.4" fill="none" stroke="#d42030" stroke-width="3" stroke-linejoin="round" stroke-linecap="round"/>
<line x1="1801.2" y1="1575.9" x2="1851.5" y2="1575.9" stroke="#1f8a22" stroke-width="3.2" stroke-linecap="round"/>
<text x="1858.7" y="1584.7" font-size="25.5" text-anchor="start" font-weight="bold" fill="#000">IPVA</text>
<line x1="1801.2" y1="1607.3" x2="1851.5" y2="1607.3" stroke="#4470d6" stroke-width="3.2" stroke-linecap="round"/>
<text x="1858.7" y="1616.1" font-size="25.5" text-anchor="start" font-weight="bold" fill="#000">SPVA</text>
<line x1="1801.2" y1="1637.7" x2="1851.5" y2="1637.7" stroke="#8a3fd4" stroke-width="3.2" stroke-linecap="round"/>
<text x="1858.7" y="1646.5" font-size="25.5" text-anchor="start" font-weight="bold" fill="#000">AA-SPVA</text>
<line x1="1801.2" y1="1669.1" x2="1851.5" y2="1669.1" stroke="#d42030" stroke-width="3.2" stroke-linecap="round"/>
<text x="1858.7" y="1677.9" font-size="25.5" text-anchor="start" font-weight="bold" fill="#000">HAA-SPVA</text>
</svg>
</body></html>
